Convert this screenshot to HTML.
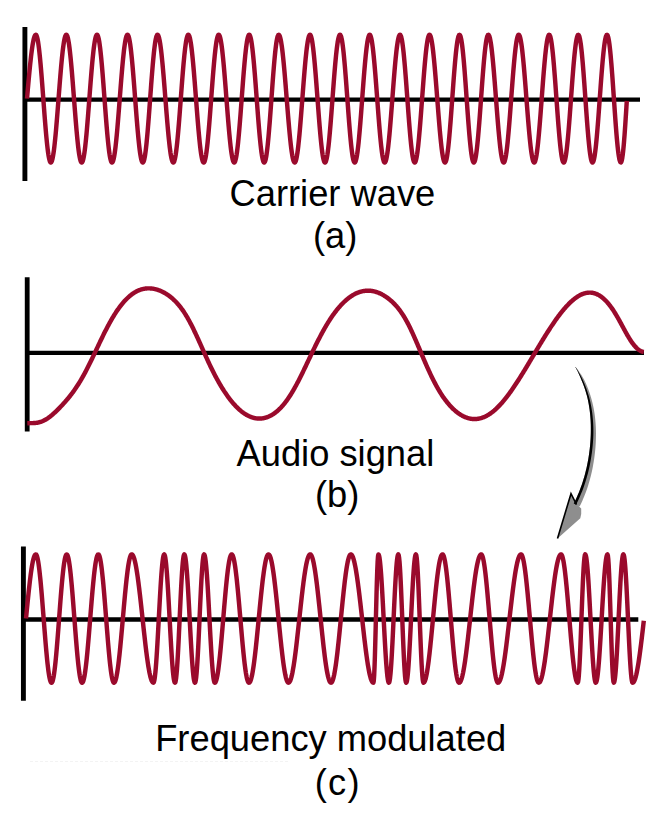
<!DOCTYPE html>
<html><head><meta charset="utf-8"><style>
html,body{margin:0;padding:0;background:#fff;width:666px;height:830px;overflow:hidden}
svg{position:absolute;left:0;top:0}
.t{position:absolute;font-family:"Liberation Sans",sans-serif;font-size:36.3px;color:#000;white-space:nowrap;line-height:1}
</style></head><body>
<svg width="666" height="830" viewBox="0 0 666 830">
<g fill="none" stroke="#000" stroke-width="4.3">
<path d="M24.9,27 V181" stroke-width="4.9"/><path d="M25,99.6 H640"/>
<path d="M27.2,277.2 V431.5" stroke-width="4.8"/><path d="M27.3,352.8 H644"/>
<path d="M23.4,546.4 V700.7" stroke-width="4.9"/><path d="M23.4,619.5 H638.3"/>
</g>
<g fill="none" stroke="#9a0a2c" stroke-width="4.45" stroke-linejoin="round">
<path d="M27.00,98.65 L27.40,94.09 L27.80,89.56 L28.20,85.08 L28.60,80.66 L29.00,76.34 L29.40,72.13 L29.80,68.05 L30.20,64.13 L30.60,60.39 L31.00,56.84 L31.40,53.50 L31.80,50.40 L32.20,47.54 L32.60,44.94 L33.00,42.61 L33.40,40.57 L33.80,38.83 L34.20,37.39 L34.60,36.26 L35.00,35.45 L35.40,34.96 L35.80,34.80 L36.19,35.02 L36.59,35.67 L36.98,36.75 L37.38,38.26 L37.77,40.18 L38.17,42.50 L38.56,45.20 L38.96,48.26 L39.35,51.67 L39.75,55.41 L40.14,59.43 L40.54,63.73 L40.93,68.26 L41.33,73.00 L41.72,77.92 L42.12,82.98 L42.51,88.14 L42.91,93.38 L43.30,98.65 L43.69,103.92 L44.09,109.16 L44.48,114.32 L44.88,119.38 L45.27,124.30 L45.67,129.04 L46.06,133.57 L46.46,137.87 L46.85,141.89 L47.25,145.63 L47.64,149.04 L48.04,152.10 L48.43,154.80 L48.83,157.12 L49.22,159.04 L49.62,160.55 L50.01,161.63 L50.41,162.28 L50.80,162.50 L51.20,162.29 L51.59,161.67 L51.99,160.64 L52.39,159.21 L52.79,157.39 L53.18,155.19 L53.58,152.62 L53.98,149.69 L54.38,146.44 L54.77,142.88 L55.17,139.03 L55.57,134.92 L55.97,130.58 L56.36,126.02 L56.76,121.29 L57.16,116.41 L57.56,111.42 L57.95,106.35 L58.35,101.22 L58.75,96.08 L59.15,90.95 L59.54,85.88 L59.94,80.89 L60.34,76.01 L60.74,71.28 L61.13,66.73 L61.53,62.38 L61.93,58.27 L62.33,54.42 L62.72,50.86 L63.12,47.61 L63.52,44.68 L63.92,42.11 L64.31,39.91 L64.71,38.09 L65.11,36.66 L65.51,35.63 L65.90,35.01 L66.30,34.80 L66.69,35.01 L67.09,35.63 L67.48,36.66 L67.88,38.09 L68.27,39.91 L68.67,42.11 L69.06,44.68 L69.46,47.61 L69.85,50.86 L70.25,54.42 L70.64,58.27 L71.04,62.38 L71.43,66.72 L71.83,71.28 L72.22,76.01 L72.62,80.89 L73.01,85.88 L73.41,90.95 L73.80,96.08 L74.20,101.22 L74.59,106.35 L74.99,111.42 L75.38,116.41 L75.78,121.29 L76.17,126.02 L76.57,130.57 L76.96,134.92 L77.36,139.03 L77.75,142.88 L78.15,146.44 L78.54,149.69 L78.94,152.62 L79.33,155.19 L79.73,157.39 L80.12,159.21 L80.52,160.64 L80.91,161.67 L81.31,162.29 L81.70,162.50 L82.09,162.29 L82.48,161.67 L82.88,160.64 L83.27,159.21 L83.66,157.39 L84.05,155.19 L84.45,152.62 L84.84,149.69 L85.23,146.44 L85.62,142.88 L86.02,139.03 L86.41,134.92 L86.80,130.58 L87.19,126.02 L87.58,121.29 L87.98,116.41 L88.37,111.42 L88.76,106.35 L89.15,101.22 L89.55,96.08 L89.94,90.95 L90.33,85.88 L90.72,80.89 L91.12,76.01 L91.51,71.28 L91.90,66.73 L92.29,62.38 L92.68,58.27 L93.08,54.42 L93.47,50.86 L93.86,47.61 L94.25,44.68 L94.65,42.11 L95.04,39.91 L95.43,38.09 L95.82,36.66 L96.22,35.63 L96.61,35.01 L97.00,34.80 L97.39,35.02 L97.79,35.67 L98.18,36.75 L98.58,38.26 L98.97,40.18 L99.37,42.50 L99.76,45.20 L100.16,48.26 L100.55,51.67 L100.95,55.41 L101.34,59.43 L101.74,63.73 L102.13,68.26 L102.53,73.00 L102.92,77.92 L103.32,82.98 L103.71,88.14 L104.11,93.38 L104.50,98.65 L104.89,103.92 L105.29,109.16 L105.68,114.32 L106.08,119.38 L106.47,124.30 L106.87,129.04 L107.26,133.57 L107.66,137.87 L108.05,141.89 L108.45,145.63 L108.84,149.04 L109.24,152.10 L109.63,154.80 L110.03,157.12 L110.42,159.04 L110.82,160.55 L111.21,161.63 L111.61,162.28 L112.00,162.50 L112.40,162.29 L112.79,161.67 L113.19,160.64 L113.59,159.21 L113.99,157.39 L114.38,155.19 L114.78,152.62 L115.18,149.69 L115.58,146.44 L115.97,142.88 L116.37,139.03 L116.77,134.92 L117.17,130.58 L117.56,126.02 L117.96,121.29 L118.36,116.41 L118.76,111.42 L119.15,106.35 L119.55,101.22 L119.95,96.08 L120.35,90.95 L120.74,85.88 L121.14,80.89 L121.54,76.01 L121.94,71.28 L122.33,66.73 L122.73,62.38 L123.13,58.27 L123.53,54.42 L123.92,50.86 L124.32,47.61 L124.72,44.68 L125.12,42.11 L125.51,39.91 L125.91,38.09 L126.31,36.66 L126.71,35.63 L127.10,35.01 L127.50,34.80 L127.89,35.01 L128.28,35.63 L128.68,36.66 L129.07,38.09 L129.46,39.91 L129.85,42.11 L130.25,44.68 L130.64,47.61 L131.03,50.86 L131.42,54.42 L131.82,58.27 L132.21,62.38 L132.60,66.72 L132.99,71.28 L133.38,76.01 L133.78,80.89 L134.17,85.88 L134.56,90.95 L134.95,96.08 L135.35,101.22 L135.74,106.35 L136.13,111.42 L136.52,116.41 L136.92,121.29 L137.31,126.02 L137.70,130.57 L138.09,134.92 L138.48,139.03 L138.88,142.88 L139.27,146.44 L139.66,149.69 L140.05,152.62 L140.45,155.19 L140.84,157.39 L141.23,159.21 L141.62,160.64 L142.02,161.67 L142.41,162.29 L142.80,162.50 L143.20,162.27 L143.59,161.58 L143.99,160.44 L144.39,158.85 L144.79,156.83 L145.18,154.39 L145.58,151.55 L145.98,148.33 L146.38,144.75 L146.77,140.83 L147.17,136.62 L147.57,132.13 L147.96,127.40 L148.36,122.46 L148.76,117.35 L149.16,112.10 L149.55,106.76 L149.95,101.36 L150.35,95.94 L150.75,90.54 L151.14,85.20 L151.54,79.95 L151.94,74.84 L152.34,69.90 L152.73,65.17 L153.13,60.68 L153.53,56.47 L153.92,52.55 L154.32,48.97 L154.72,45.75 L155.12,42.91 L155.51,40.47 L155.91,38.45 L156.31,36.86 L156.71,35.72 L157.10,35.03 L157.50,34.80 L157.90,35.00 L158.29,35.59 L158.69,36.56 L159.08,37.93 L159.47,39.66 L159.87,41.76 L160.27,44.21 L160.66,46.99 L161.06,50.10 L161.45,53.50 L161.84,57.18 L162.24,61.12 L162.63,65.29 L163.03,69.66 L163.43,74.22 L163.82,78.92 L164.22,83.74 L164.61,88.66 L165.00,93.64 L165.40,98.65 L165.80,103.66 L166.19,108.64 L166.59,113.56 L166.98,118.38 L167.38,123.08 L167.77,127.64 L168.17,132.01 L168.56,136.18 L168.96,140.12 L169.35,143.80 L169.75,147.20 L170.14,150.31 L170.53,153.09 L170.93,155.54 L171.33,157.64 L171.72,159.37 L172.12,160.74 L172.51,161.71 L172.91,162.30 L173.30,162.50 L173.69,162.28 L174.09,161.63 L174.48,160.55 L174.88,159.04 L175.27,157.12 L175.67,154.80 L176.06,152.10 L176.46,149.04 L176.85,145.63 L177.25,141.89 L177.64,137.87 L178.04,133.57 L178.43,129.04 L178.83,124.30 L179.22,119.38 L179.62,114.32 L180.01,109.16 L180.41,103.92 L180.80,98.65 L181.19,93.38 L181.59,88.14 L181.98,82.98 L182.38,77.92 L182.77,73.00 L183.17,68.26 L183.56,63.73 L183.96,59.43 L184.35,55.41 L184.75,51.67 L185.14,48.26 L185.54,45.20 L185.93,42.50 L186.33,40.18 L186.72,38.26 L187.12,36.75 L187.51,35.67 L187.91,35.02 L188.30,34.80 L188.69,35.01 L189.09,35.63 L189.48,36.66 L189.88,38.09 L190.27,39.91 L190.67,42.11 L191.06,44.68 L191.46,47.61 L191.85,50.86 L192.25,54.42 L192.64,58.27 L193.04,62.38 L193.43,66.72 L193.83,71.28 L194.22,76.01 L194.62,80.89 L195.01,85.88 L195.41,90.95 L195.80,96.08 L196.20,101.22 L196.59,106.35 L196.99,111.42 L197.38,116.41 L197.78,121.29 L198.17,126.02 L198.57,130.57 L198.96,134.92 L199.36,139.03 L199.75,142.88 L200.15,146.44 L200.54,149.69 L200.94,152.62 L201.33,155.19 L201.73,157.39 L202.12,159.21 L202.52,160.64 L202.91,161.67 L203.31,162.29 L203.70,162.50 L204.09,162.28 L204.49,161.63 L204.88,160.55 L205.28,159.04 L205.67,157.12 L206.07,154.80 L206.46,152.10 L206.86,149.04 L207.25,145.63 L207.65,141.89 L208.04,137.87 L208.44,133.57 L208.83,129.04 L209.23,124.30 L209.62,119.38 L210.02,114.32 L210.41,109.16 L210.81,103.92 L211.20,98.65 L211.59,93.38 L211.99,88.14 L212.38,82.98 L212.78,77.92 L213.17,73.00 L213.57,68.26 L213.96,63.73 L214.36,59.43 L214.75,55.41 L215.15,51.67 L215.54,48.26 L215.94,45.20 L216.33,42.50 L216.73,40.18 L217.12,38.26 L217.52,36.75 L217.91,35.67 L218.31,35.02 L218.70,34.80 L219.10,35.01 L219.49,35.63 L219.89,36.66 L220.29,38.09 L220.69,39.91 L221.08,42.11 L221.48,44.68 L221.88,47.61 L222.28,50.86 L222.67,54.42 L223.07,58.27 L223.47,62.38 L223.87,66.72 L224.26,71.28 L224.66,76.01 L225.06,80.89 L225.46,85.88 L225.85,90.95 L226.25,96.08 L226.65,101.22 L227.05,106.35 L227.44,111.42 L227.84,116.41 L228.24,121.29 L228.64,126.02 L229.03,130.57 L229.43,134.92 L229.83,139.03 L230.23,142.88 L230.62,146.44 L231.02,149.69 L231.42,152.62 L231.82,155.19 L232.21,157.39 L232.61,159.21 L233.01,160.64 L233.41,161.67 L233.80,162.29 L234.20,162.50 L234.59,162.28 L234.99,161.63 L235.38,160.55 L235.78,159.04 L236.17,157.12 L236.57,154.80 L236.96,152.10 L237.36,149.04 L237.75,145.63 L238.15,141.89 L238.54,137.87 L238.94,133.57 L239.33,129.04 L239.73,124.30 L240.12,119.38 L240.52,114.32 L240.91,109.16 L241.31,103.92 L241.70,98.65 L242.09,93.38 L242.49,88.14 L242.88,82.98 L243.28,77.92 L243.67,73.00 L244.07,68.26 L244.46,63.73 L244.86,59.43 L245.25,55.41 L245.65,51.67 L246.04,48.26 L246.44,45.20 L246.83,42.50 L247.23,40.18 L247.62,38.26 L248.02,36.75 L248.41,35.67 L248.81,35.02 L249.20,34.80 L249.59,35.02 L249.99,35.67 L250.38,36.75 L250.78,38.26 L251.17,40.18 L251.57,42.50 L251.96,45.20 L252.36,48.26 L252.75,51.67 L253.15,55.41 L253.54,59.43 L253.94,63.73 L254.33,68.26 L254.73,73.00 L255.12,77.92 L255.52,82.98 L255.91,88.14 L256.31,93.38 L256.70,98.65 L257.09,103.92 L257.49,109.16 L257.88,114.32 L258.28,119.38 L258.67,124.30 L259.07,129.04 L259.46,133.57 L259.86,137.87 L260.25,141.89 L260.65,145.63 L261.04,149.04 L261.44,152.10 L261.83,154.80 L262.23,157.12 L262.62,159.04 L263.02,160.55 L263.41,161.63 L263.81,162.28 L264.20,162.50 L264.59,162.27 L264.98,161.58 L265.38,160.44 L265.77,158.85 L266.16,156.83 L266.55,154.39 L266.94,151.55 L267.34,148.33 L267.73,144.75 L268.12,140.83 L268.51,136.62 L268.90,132.13 L269.29,127.40 L269.69,122.46 L270.08,117.35 L270.47,112.10 L270.86,106.76 L271.25,101.36 L271.65,95.94 L272.04,90.54 L272.43,85.20 L272.82,79.95 L273.21,74.84 L273.61,69.90 L274.00,65.17 L274.39,60.68 L274.78,56.47 L275.17,52.55 L275.56,48.97 L275.96,45.75 L276.35,42.91 L276.74,40.47 L277.13,38.45 L277.52,36.86 L277.92,35.72 L278.31,35.03 L278.70,34.80 L279.09,34.99 L279.48,35.55 L279.87,36.48 L280.26,37.78 L280.65,39.43 L281.04,41.43 L281.43,43.77 L281.82,46.43 L282.21,49.39 L282.60,52.64 L282.99,56.17 L283.38,59.94 L283.77,63.94 L284.16,68.15 L284.55,72.53 L284.94,77.07 L285.33,81.73 L285.72,86.49 L286.11,91.33 L286.50,96.20 L286.90,101.10 L287.29,105.97 L287.68,110.81 L288.07,115.57 L288.46,120.23 L288.85,124.77 L289.24,129.15 L289.63,133.36 L290.02,137.36 L290.41,141.13 L290.80,144.66 L291.19,147.91 L291.58,150.87 L291.97,153.53 L292.36,155.87 L292.75,157.87 L293.14,159.52 L293.53,160.82 L293.92,161.75 L294.31,162.31 L294.70,162.50 L295.09,162.29 L295.48,161.67 L295.88,160.64 L296.27,159.21 L296.66,157.39 L297.05,155.19 L297.45,152.62 L297.84,149.69 L298.23,146.44 L298.62,142.88 L299.02,139.03 L299.41,134.92 L299.80,130.58 L300.19,126.02 L300.58,121.29 L300.98,116.41 L301.37,111.42 L301.76,106.35 L302.15,101.22 L302.55,96.08 L302.94,90.95 L303.33,85.88 L303.72,80.89 L304.12,76.01 L304.51,71.28 L304.90,66.73 L305.29,62.38 L305.68,58.27 L306.08,54.42 L306.47,50.86 L306.86,47.61 L307.25,44.68 L307.65,42.11 L308.04,39.91 L308.43,38.09 L308.82,36.66 L309.22,35.63 L309.61,35.01 L310.00,34.80 L310.39,35.02 L310.79,35.67 L311.18,36.75 L311.58,38.26 L311.97,40.18 L312.37,42.50 L312.76,45.20 L313.16,48.26 L313.55,51.67 L313.95,55.41 L314.34,59.43 L314.74,63.73 L315.13,68.26 L315.53,73.00 L315.92,77.92 L316.32,82.98 L316.71,88.14 L317.11,93.38 L317.50,98.65 L317.89,103.92 L318.29,109.16 L318.68,114.32 L319.08,119.38 L319.47,124.30 L319.87,129.04 L320.26,133.57 L320.66,137.87 L321.05,141.89 L321.45,145.63 L321.84,149.04 L322.24,152.10 L322.63,154.80 L323.03,157.12 L323.42,159.04 L323.82,160.55 L324.21,161.63 L324.61,162.28 L325.00,162.50 L325.39,162.28 L325.79,161.63 L326.18,160.55 L326.58,159.04 L326.97,157.12 L327.37,154.80 L327.76,152.10 L328.16,149.04 L328.55,145.63 L328.95,141.89 L329.34,137.87 L329.74,133.57 L330.13,129.04 L330.53,124.30 L330.92,119.38 L331.32,114.32 L331.71,109.16 L332.11,103.92 L332.50,98.65 L332.89,93.38 L333.29,88.14 L333.68,82.98 L334.08,77.92 L334.47,73.00 L334.87,68.26 L335.26,63.73 L335.66,59.43 L336.05,55.41 L336.45,51.67 L336.84,48.26 L337.24,45.20 L337.63,42.50 L338.03,40.18 L338.42,38.26 L338.82,36.75 L339.21,35.67 L339.61,35.02 L340.00,34.80 L340.40,35.03 L340.79,35.72 L341.19,36.86 L341.59,38.45 L341.99,40.47 L342.38,42.91 L342.78,45.75 L343.18,48.97 L343.58,52.55 L343.97,56.47 L344.37,60.68 L344.77,65.17 L345.16,69.90 L345.56,74.84 L345.96,79.95 L346.36,85.20 L346.75,90.54 L347.15,95.94 L347.55,101.36 L347.95,106.76 L348.34,112.10 L348.74,117.35 L349.14,122.46 L349.54,127.40 L349.93,132.13 L350.33,136.62 L350.73,140.83 L351.12,144.75 L351.52,148.33 L351.92,151.55 L352.32,154.39 L352.71,156.83 L353.11,158.85 L353.51,160.44 L353.91,161.58 L354.30,162.27 L354.70,162.50 L355.09,162.28 L355.49,161.63 L355.88,160.55 L356.28,159.04 L356.67,157.12 L357.07,154.80 L357.46,152.10 L357.86,149.04 L358.25,145.63 L358.65,141.89 L359.04,137.87 L359.44,133.57 L359.83,129.04 L360.23,124.30 L360.62,119.38 L361.02,114.32 L361.41,109.16 L361.81,103.92 L362.20,98.65 L362.59,93.38 L362.99,88.14 L363.38,82.98 L363.78,77.92 L364.17,73.00 L364.57,68.26 L364.96,63.73 L365.36,59.43 L365.75,55.41 L366.15,51.67 L366.54,48.26 L366.94,45.20 L367.33,42.50 L367.73,40.18 L368.12,38.26 L368.52,36.75 L368.91,35.67 L369.31,35.02 L369.70,34.80 L370.09,35.02 L370.49,35.67 L370.88,36.75 L371.28,38.26 L371.67,40.18 L372.07,42.50 L372.46,45.20 L372.86,48.26 L373.25,51.67 L373.65,55.41 L374.04,59.43 L374.44,63.73 L374.83,68.26 L375.23,73.00 L375.62,77.92 L376.02,82.98 L376.41,88.14 L376.81,93.38 L377.20,98.65 L377.59,103.92 L377.99,109.16 L378.38,114.32 L378.78,119.38 L379.17,124.30 L379.57,129.04 L379.96,133.57 L380.36,137.87 L380.75,141.89 L381.15,145.63 L381.54,149.04 L381.94,152.10 L382.33,154.80 L382.73,157.12 L383.12,159.04 L383.52,160.55 L383.91,161.63 L384.31,162.28 L384.70,162.50 L385.09,162.29 L385.48,161.67 L385.88,160.64 L386.27,159.21 L386.66,157.39 L387.05,155.19 L387.45,152.62 L387.84,149.69 L388.23,146.44 L388.62,142.88 L389.02,139.03 L389.41,134.92 L389.80,130.58 L390.19,126.02 L390.58,121.29 L390.98,116.41 L391.37,111.42 L391.76,106.35 L392.15,101.22 L392.55,96.08 L392.94,90.95 L393.33,85.88 L393.72,80.89 L394.12,76.01 L394.51,71.28 L394.90,66.73 L395.29,62.38 L395.68,58.27 L396.08,54.42 L396.47,50.86 L396.86,47.61 L397.25,44.68 L397.65,42.11 L398.04,39.91 L398.43,38.09 L398.82,36.66 L399.22,35.63 L399.61,35.01 L400.00,34.80 L400.40,35.03 L400.79,35.72 L401.19,36.86 L401.59,38.45 L401.99,40.47 L402.38,42.91 L402.78,45.75 L403.18,48.97 L403.58,52.55 L403.97,56.47 L404.37,60.68 L404.77,65.17 L405.16,69.90 L405.56,74.84 L405.96,79.95 L406.36,85.20 L406.75,90.54 L407.15,95.94 L407.55,101.36 L407.95,106.76 L408.34,112.10 L408.74,117.35 L409.14,122.46 L409.54,127.40 L409.93,132.13 L410.33,136.62 L410.73,140.83 L411.12,144.75 L411.52,148.33 L411.92,151.55 L412.32,154.39 L412.71,156.83 L413.11,158.85 L413.51,160.44 L413.91,161.58 L414.30,162.27 L414.70,162.50 L415.09,162.28 L415.48,161.63 L415.87,160.55 L416.26,159.04 L416.65,157.12 L417.04,154.80 L417.43,152.10 L417.82,149.04 L418.21,145.63 L418.59,141.89 L418.98,137.87 L419.37,133.57 L419.76,129.04 L420.15,124.30 L420.54,119.38 L420.93,114.32 L421.32,109.16 L421.71,103.92 L422.10,98.65 L422.49,93.38 L422.88,88.14 L423.27,82.98 L423.66,77.92 L424.05,73.00 L424.44,68.26 L424.83,63.73 L425.22,59.43 L425.61,55.41 L425.99,51.67 L426.38,48.26 L426.77,45.20 L427.16,42.50 L427.55,40.18 L427.94,38.26 L428.33,36.75 L428.72,35.67 L429.11,35.02 L429.50,34.80 L429.90,35.01 L430.29,35.63 L430.69,36.66 L431.09,38.09 L431.49,39.91 L431.88,42.11 L432.28,44.68 L432.68,47.61 L433.08,50.86 L433.47,54.42 L433.87,58.27 L434.27,62.38 L434.67,66.72 L435.06,71.28 L435.46,76.01 L435.86,80.89 L436.26,85.88 L436.65,90.95 L437.05,96.08 L437.45,101.22 L437.85,106.35 L438.24,111.42 L438.64,116.41 L439.04,121.29 L439.44,126.02 L439.83,130.57 L440.23,134.92 L440.63,139.03 L441.03,142.88 L441.42,146.44 L441.82,149.69 L442.22,152.62 L442.62,155.19 L443.01,157.39 L443.41,159.21 L443.81,160.64 L444.21,161.67 L444.60,162.29 L445.00,162.50 L445.39,162.27 L445.78,161.58 L446.18,160.44 L446.57,158.85 L446.96,156.83 L447.35,154.39 L447.74,151.55 L448.14,148.33 L448.53,144.75 L448.92,140.83 L449.31,136.62 L449.70,132.13 L450.09,127.40 L450.49,122.46 L450.88,117.35 L451.27,112.10 L451.66,106.76 L452.05,101.36 L452.45,95.94 L452.84,90.54 L453.23,85.20 L453.62,79.95 L454.01,74.84 L454.41,69.90 L454.80,65.17 L455.19,60.68 L455.58,56.47 L455.97,52.55 L456.36,48.97 L456.76,45.75 L457.15,42.91 L457.54,40.47 L457.93,38.45 L458.32,36.86 L458.72,35.72 L459.11,35.03 L459.50,34.80 L459.90,35.04 L460.29,35.77 L460.69,36.98 L461.09,38.65 L461.49,40.78 L461.88,43.35 L462.28,46.35 L462.68,49.74 L463.07,53.50 L463.47,57.61 L463.87,62.03 L464.27,66.72 L464.66,71.67 L465.06,76.81 L465.46,82.12 L465.86,87.56 L466.25,93.09 L466.65,98.65 L467.05,104.21 L467.44,109.74 L467.84,115.18 L468.24,120.49 L468.64,125.63 L469.03,130.57 L469.43,135.27 L469.83,139.69 L470.23,143.80 L470.62,147.56 L471.02,150.95 L471.42,153.95 L471.81,156.52 L472.21,158.65 L472.61,160.32 L473.01,161.53 L473.40,162.26 L473.80,162.50 L474.19,162.27 L474.58,161.58 L474.98,160.44 L475.37,158.85 L475.76,156.83 L476.15,154.39 L476.54,151.55 L476.94,148.33 L477.33,144.75 L477.72,140.83 L478.11,136.62 L478.50,132.13 L478.89,127.40 L479.29,122.46 L479.68,117.35 L480.07,112.10 L480.46,106.76 L480.85,101.36 L481.25,95.94 L481.64,90.54 L482.03,85.20 L482.42,79.95 L482.81,74.84 L483.21,69.90 L483.60,65.17 L483.99,60.68 L484.38,56.47 L484.77,52.55 L485.16,48.97 L485.56,45.75 L485.95,42.91 L486.34,40.47 L486.73,38.45 L487.12,36.86 L487.52,35.72 L487.91,35.03 L488.30,34.80 L488.69,35.01 L489.09,35.63 L489.48,36.66 L489.88,38.09 L490.27,39.91 L490.67,42.11 L491.06,44.68 L491.46,47.61 L491.85,50.86 L492.25,54.42 L492.64,58.27 L493.04,62.38 L493.43,66.72 L493.83,71.28 L494.22,76.01 L494.62,80.89 L495.01,85.88 L495.41,90.95 L495.80,96.08 L496.20,101.22 L496.59,106.35 L496.99,111.42 L497.38,116.41 L497.78,121.29 L498.17,126.02 L498.57,130.57 L498.96,134.92 L499.36,139.03 L499.75,142.88 L500.15,146.44 L500.54,149.69 L500.94,152.62 L501.33,155.19 L501.73,157.39 L502.12,159.21 L502.52,160.64 L502.91,161.67 L503.31,162.29 L503.70,162.50 L504.09,162.28 L504.49,161.63 L504.88,160.55 L505.28,159.04 L505.67,157.12 L506.07,154.80 L506.46,152.10 L506.86,149.04 L507.25,145.63 L507.65,141.89 L508.04,137.87 L508.44,133.57 L508.83,129.04 L509.23,124.30 L509.62,119.38 L510.02,114.32 L510.41,109.16 L510.81,103.92 L511.20,98.65 L511.59,93.38 L511.99,88.14 L512.38,82.98 L512.78,77.92 L513.17,73.00 L513.57,68.26 L513.96,63.73 L514.36,59.43 L514.75,55.41 L515.15,51.67 L515.54,48.26 L515.94,45.20 L516.33,42.50 L516.73,40.18 L517.12,38.26 L517.52,36.75 L517.91,35.67 L518.31,35.02 L518.70,34.80 L519.10,35.01 L519.49,35.63 L519.89,36.66 L520.29,38.09 L520.69,39.91 L521.08,42.11 L521.48,44.68 L521.88,47.61 L522.28,50.86 L522.67,54.42 L523.07,58.27 L523.47,62.38 L523.87,66.72 L524.26,71.28 L524.66,76.01 L525.06,80.89 L525.46,85.88 L525.85,90.95 L526.25,96.08 L526.65,101.22 L527.05,106.35 L527.44,111.42 L527.84,116.41 L528.24,121.29 L528.64,126.02 L529.03,130.57 L529.43,134.92 L529.83,139.03 L530.23,142.88 L530.62,146.44 L531.02,149.69 L531.42,152.62 L531.82,155.19 L532.21,157.39 L532.61,159.21 L533.01,160.64 L533.41,161.67 L533.80,162.29 L534.20,162.50 L534.59,162.28 L534.99,161.63 L535.38,160.55 L535.78,159.04 L536.17,157.12 L536.57,154.80 L536.96,152.10 L537.36,149.04 L537.75,145.63 L538.15,141.89 L538.54,137.87 L538.94,133.57 L539.33,129.04 L539.73,124.30 L540.12,119.38 L540.52,114.32 L540.91,109.16 L541.31,103.92 L541.70,98.65 L542.09,93.38 L542.49,88.14 L542.88,82.98 L543.28,77.92 L543.67,73.00 L544.07,68.26 L544.46,63.73 L544.86,59.43 L545.25,55.41 L545.65,51.67 L546.04,48.26 L546.44,45.20 L546.83,42.50 L547.23,40.18 L547.62,38.26 L548.02,36.75 L548.41,35.67 L548.81,35.02 L549.20,34.80 L549.59,35.03 L549.98,35.72 L550.38,36.86 L550.77,38.45 L551.16,40.47 L551.55,42.91 L551.94,45.75 L552.34,48.97 L552.73,52.55 L553.12,56.47 L553.51,60.68 L553.90,65.17 L554.29,69.90 L554.69,74.84 L555.08,79.95 L555.47,85.20 L555.86,90.54 L556.25,95.94 L556.65,101.36 L557.04,106.76 L557.43,112.10 L557.82,117.35 L558.21,122.46 L558.61,127.40 L559.00,132.13 L559.39,136.62 L559.78,140.83 L560.17,144.75 L560.56,148.33 L560.96,151.55 L561.35,154.39 L561.74,156.83 L562.13,158.85 L562.52,160.44 L562.92,161.58 L563.31,162.27 L563.70,162.50 L564.09,162.27 L564.49,161.58 L564.88,160.44 L565.28,158.85 L565.67,156.83 L566.07,154.39 L566.46,151.55 L566.86,148.33 L567.25,144.75 L567.65,140.83 L568.04,136.62 L568.44,132.13 L568.83,127.40 L569.22,122.46 L569.62,117.35 L570.01,112.10 L570.41,106.76 L570.80,101.36 L571.20,95.94 L571.59,90.54 L571.99,85.20 L572.38,79.95 L572.78,74.84 L573.17,69.90 L573.56,65.17 L573.96,60.68 L574.35,56.47 L574.75,52.55 L575.14,48.97 L575.54,45.75 L575.93,42.91 L576.33,40.47 L576.72,38.45 L577.12,36.86 L577.51,35.72 L577.91,35.03 L578.30,34.80 L578.69,35.04 L579.09,35.77 L579.48,36.98 L579.88,38.65 L580.27,40.78 L580.67,43.35 L581.06,46.35 L581.46,49.74 L581.85,53.50 L582.24,57.61 L582.64,62.03 L583.03,66.72 L583.43,71.67 L583.82,76.81 L584.22,82.12 L584.61,87.56 L585.01,93.09 L585.40,98.65 L585.79,104.21 L586.19,109.74 L586.58,115.18 L586.98,120.49 L587.37,125.63 L587.77,130.57 L588.16,135.27 L588.56,139.69 L588.95,143.80 L589.34,147.56 L589.74,150.95 L590.13,153.95 L590.53,156.52 L590.92,158.65 L591.32,160.32 L591.71,161.53 L592.11,162.26 L592.50,162.50 L592.89,162.27 L593.28,161.58 L593.68,160.44 L594.07,158.85 L594.46,156.83 L594.85,154.39 L595.24,151.55 L595.64,148.33 L596.03,144.75 L596.42,140.83 L596.81,136.62 L597.20,132.13 L597.59,127.40 L597.99,122.46 L598.38,117.35 L598.77,112.10 L599.16,106.76 L599.55,101.36 L599.95,95.94 L600.34,90.54 L600.73,85.20 L601.12,79.95 L601.51,74.84 L601.91,69.90 L602.30,65.17 L602.69,60.68 L603.08,56.47 L603.47,52.55 L603.86,48.97 L604.26,45.75 L604.65,42.91 L605.04,40.47 L605.43,38.45 L605.82,36.86 L606.22,35.72 L606.61,35.03 L607.00,34.80 L607.39,35.06 L607.79,35.83 L608.18,37.10 L608.58,38.87 L608.97,41.12 L609.37,43.84 L609.76,46.99 L610.15,50.57 L610.55,54.53 L610.94,58.84 L611.34,63.48 L611.73,68.39 L612.13,73.56 L612.52,78.92 L612.91,84.44 L613.31,90.08 L613.70,95.79 L614.10,101.51 L614.49,107.22 L614.89,112.86 L615.28,118.38 L615.67,123.74 L616.07,128.91 L616.46,133.82 L616.86,138.46 L617.25,142.77 L617.65,146.73 L618.04,150.31 L618.43,153.46 L618.83,156.18 L619.22,158.43 L619.62,160.20 L620.01,161.47 L620.41,162.24 L620.80,162.50 L621.17,162.20 L621.55,161.31 L621.92,159.84 L622.30,157.80 L622.67,155.21 L623.05,152.10 L623.42,148.49 L623.80,144.43 L624.17,139.94 L624.55,135.08 L624.92,129.89 L625.30,124.41 L625.67,118.71 L626.05,112.84 L626.42,106.85 L626.80,100.80"/>
<path d="M27.30,423.21 L27.80,423.19 L28.30,423.17 L28.80,423.16 L29.30,423.15 L29.80,423.14 L30.30,423.14 L30.80,423.14 L31.30,423.13 L31.80,423.13 L32.30,423.12 L32.80,423.10 L33.30,423.09 L33.80,423.06 L34.30,423.03 L34.80,423.00 L35.30,422.96 L35.80,422.91 L36.30,422.85 L36.80,422.78 L37.30,422.70 L37.80,422.61 L38.30,422.51 L38.80,422.40 L39.30,422.27 L39.80,422.14 L40.30,421.99 L40.80,421.83 L41.30,421.66 L41.80,421.47 L42.30,421.28 L42.80,421.06 L43.30,420.84 L43.80,420.60 L44.30,420.35 L44.80,420.09 L45.30,419.81 L45.80,419.52 L46.30,419.22 L46.80,418.90 L47.30,418.58 L47.80,418.24 L48.30,417.89 L48.80,417.53 L49.30,417.16 L49.80,416.77 L50.30,416.38 L50.80,415.98 L51.30,415.57 L51.80,415.16 L52.30,414.73 L52.80,414.30 L53.30,413.86 L53.80,413.41 L54.30,412.95 L54.80,412.49 L55.30,412.03 L55.80,411.55 L56.30,411.07 L56.80,410.59 L57.30,410.10 L57.80,409.60 L58.30,409.10 L58.80,408.60 L59.30,408.09 L59.80,407.58 L60.30,407.06 L60.80,406.53 L61.30,406.00 L61.80,405.47 L62.30,404.93 L62.80,404.39 L63.30,403.84 L63.80,403.29 L64.30,402.74 L64.80,402.17 L65.30,401.61 L65.80,401.03 L66.30,400.46 L66.80,399.87 L67.30,399.28 L67.80,398.69 L68.30,398.09 L68.80,397.48 L69.30,396.86 L69.80,396.24 L70.30,395.61 L70.80,394.97 L71.30,394.33 L71.80,393.67 L72.30,393.01 L72.80,392.34 L73.30,391.65 L73.80,390.96 L74.30,390.26 L74.80,389.55 L75.30,388.83 L75.80,388.10 L76.30,387.35 L76.80,386.60 L77.30,385.84 L77.80,385.06 L78.30,384.28 L78.80,383.48 L79.30,382.67 L79.80,381.86 L80.30,381.03 L80.80,380.19 L81.30,379.34 L81.80,378.47 L82.30,377.60 L82.80,376.72 L83.30,375.83 L83.80,374.92 L84.30,374.01 L84.80,373.09 L85.30,372.15 L85.80,371.21 L86.30,370.26 L86.80,369.29 L87.30,368.32 L87.80,367.35 L88.30,366.36 L88.80,365.36 L89.30,364.36 L89.80,363.35 L90.30,362.33 L90.80,361.31 L91.30,360.28 L91.80,359.25 L92.30,358.21 L92.80,357.16 L93.30,356.12 L93.80,355.06 L94.30,354.01 L94.80,352.95 L95.30,351.89 L95.80,350.83 L96.30,349.77 L96.80,348.71 L97.30,347.65 L97.80,346.59 L98.30,345.53 L98.80,344.47 L99.30,343.41 L99.80,342.36 L100.30,341.31 L100.80,340.27 L101.30,339.23 L101.80,338.20 L102.30,337.17 L102.80,336.14 L103.30,335.12 L103.80,334.11 L104.30,333.11 L104.80,332.11 L105.30,331.12 L105.80,330.14 L106.30,329.17 L106.80,328.20 L107.30,327.25 L107.80,326.30 L108.30,325.36 L108.80,324.44 L109.30,323.52 L109.80,322.61 L110.30,321.71 L110.80,320.83 L111.30,319.95 L111.80,319.09 L112.30,318.24 L112.80,317.39 L113.30,316.56 L113.80,315.75 L114.30,314.94 L114.80,314.14 L115.30,313.36 L115.80,312.59 L116.30,311.83 L116.80,311.08 L117.30,310.35 L117.80,309.62 L118.30,308.91 L118.80,308.22 L119.30,307.53 L119.80,306.86 L120.30,306.20 L120.80,305.55 L121.30,304.91 L121.80,304.29 L122.30,303.67 L122.80,303.07 L123.30,302.49 L123.80,301.91 L124.30,301.35 L124.80,300.80 L125.30,300.26 L125.80,299.74 L126.30,299.22 L126.80,298.72 L127.30,298.24 L127.80,297.76 L128.30,297.30 L128.80,296.85 L129.30,296.41 L129.80,295.98 L130.30,295.57 L130.80,295.16 L131.30,294.77 L131.80,294.40 L132.30,294.03 L132.80,293.68 L133.30,293.33 L133.80,293.00 L134.30,292.69 L134.80,292.38 L135.30,292.09 L135.80,291.80 L136.30,291.53 L136.80,291.27 L137.30,291.03 L137.80,290.79 L138.30,290.57 L138.80,290.35 L139.30,290.15 L139.80,289.96 L140.30,289.78 L140.80,289.61 L141.30,289.46 L141.80,289.31 L142.30,289.17 L142.80,289.05 L143.30,288.93 L143.80,288.83 L144.30,288.74 L144.80,288.66 L145.30,288.58 L145.80,288.52 L146.30,288.47 L146.80,288.43 L147.30,288.40 L147.80,288.37 L148.30,288.36 L148.80,288.36 L149.30,288.36 L149.80,288.38 L150.30,288.41 L150.80,288.44 L151.30,288.48 L151.80,288.54 L152.30,288.60 L152.80,288.67 L153.30,288.75 L153.80,288.84 L154.30,288.94 L154.80,289.05 L155.30,289.16 L155.80,289.29 L156.30,289.42 L156.80,289.56 L157.30,289.71 L157.80,289.87 L158.30,290.04 L158.80,290.22 L159.30,290.41 L159.80,290.60 L160.30,290.80 L160.80,291.02 L161.30,291.24 L161.80,291.47 L162.30,291.71 L162.80,291.96 L163.30,292.21 L163.80,292.48 L164.30,292.75 L164.80,293.04 L165.30,293.33 L165.80,293.63 L166.30,293.95 L166.80,294.27 L167.30,294.60 L167.80,294.94 L168.30,295.29 L168.80,295.65 L169.30,296.01 L169.80,296.39 L170.30,296.78 L170.80,297.18 L171.30,297.59 L171.80,298.01 L172.30,298.45 L172.80,298.89 L173.30,299.34 L173.80,299.81 L174.30,300.28 L174.80,300.77 L175.30,301.27 L175.80,301.78 L176.30,302.31 L176.80,302.84 L177.30,303.39 L177.80,303.96 L178.30,304.53 L178.80,305.12 L179.30,305.73 L179.80,306.35 L180.30,306.98 L180.80,307.63 L181.30,308.29 L181.80,308.97 L182.30,309.66 L182.80,310.37 L183.30,311.10 L183.80,311.84 L184.30,312.60 L184.80,313.37 L185.30,314.16 L185.80,314.97 L186.30,315.79 L186.80,316.63 L187.30,317.48 L187.80,318.35 L188.30,319.24 L188.80,320.14 L189.30,321.05 L189.80,321.98 L190.30,322.92 L190.80,323.88 L191.30,324.85 L191.80,325.83 L192.30,326.82 L192.80,327.83 L193.30,328.85 L193.80,329.88 L194.30,330.91 L194.80,331.96 L195.30,333.02 L195.80,334.08 L196.30,335.16 L196.80,336.24 L197.30,337.33 L197.80,338.42 L198.30,339.52 L198.80,340.62 L199.30,341.73 L199.80,342.84 L200.30,343.96 L200.80,345.08 L201.30,346.20 L201.80,347.32 L202.30,348.44 L202.80,349.56 L203.30,350.68 L203.80,351.80 L204.30,352.92 L204.80,354.03 L205.30,355.14 L205.80,356.25 L206.30,357.35 L206.80,358.45 L207.30,359.54 L207.80,360.62 L208.30,361.70 L208.80,362.77 L209.30,363.84 L209.80,364.89 L210.30,365.94 L210.80,366.98 L211.30,368.01 L211.80,369.03 L212.30,370.05 L212.80,371.05 L213.30,372.04 L213.80,373.03 L214.30,374.00 L214.80,374.96 L215.30,375.92 L215.80,376.86 L216.30,377.80 L216.80,378.72 L217.30,379.63 L217.80,380.54 L218.30,381.43 L218.80,382.31 L219.30,383.19 L219.80,384.05 L220.30,384.90 L220.80,385.75 L221.30,386.58 L221.80,387.40 L222.30,388.21 L222.80,389.01 L223.30,389.80 L223.80,390.58 L224.30,391.36 L224.80,392.12 L225.30,392.86 L225.80,393.60 L226.30,394.33 L226.80,395.05 L227.30,395.76 L227.80,396.46 L228.30,397.14 L228.80,397.82 L229.30,398.48 L229.80,399.14 L230.30,399.78 L230.80,400.42 L231.30,401.04 L231.80,401.65 L232.30,402.26 L232.80,402.85 L233.30,403.43 L233.80,404.00 L234.30,404.56 L234.80,405.11 L235.30,405.64 L235.80,406.17 L236.30,406.69 L236.80,407.19 L237.30,407.69 L237.80,408.17 L238.30,408.64 L238.80,409.11 L239.30,409.56 L239.80,410.00 L240.30,410.43 L240.80,410.85 L241.30,411.26 L241.80,411.65 L242.30,412.04 L242.80,412.41 L243.30,412.78 L243.80,413.13 L244.30,413.47 L244.80,413.80 L245.30,414.12 L245.80,414.43 L246.30,414.73 L246.80,415.02 L247.30,415.29 L247.80,415.56 L248.30,415.81 L248.80,416.06 L249.30,416.29 L249.80,416.51 L250.30,416.72 L250.80,416.91 L251.30,417.10 L251.80,417.28 L252.30,417.44 L252.80,417.59 L253.30,417.74 L253.80,417.87 L254.30,417.99 L254.80,418.10 L255.30,418.19 L255.80,418.28 L256.30,418.35 L256.80,418.42 L257.30,418.47 L257.80,418.51 L258.30,418.54 L258.80,418.56 L259.30,418.56 L259.80,418.56 L260.30,418.54 L260.80,418.51 L261.30,418.47 L261.80,418.42 L262.30,418.36 L262.80,418.29 L263.30,418.20 L263.80,418.11 L264.30,418.00 L264.80,417.88 L265.30,417.75 L265.80,417.61 L266.30,417.45 L266.80,417.29 L267.30,417.11 L267.80,416.92 L268.30,416.72 L268.80,416.51 L269.30,416.28 L269.80,416.04 L270.30,415.80 L270.80,415.53 L271.30,415.26 L271.80,414.98 L272.30,414.68 L272.80,414.37 L273.30,414.05 L273.80,413.71 L274.30,413.37 L274.80,413.01 L275.30,412.64 L275.80,412.25 L276.30,411.85 L276.80,411.44 L277.30,411.02 L277.80,410.58 L278.30,410.13 L278.80,409.67 L279.30,409.20 L279.80,408.71 L280.30,408.20 L280.80,407.69 L281.30,407.16 L281.80,406.61 L282.30,406.06 L282.80,405.48 L283.30,404.90 L283.80,404.30 L284.30,403.69 L284.80,403.06 L285.30,402.42 L285.80,401.76 L286.30,401.09 L286.80,400.41 L287.30,399.71 L287.80,399.00 L288.30,398.28 L288.80,397.54 L289.30,396.79 L289.80,396.02 L290.30,395.25 L290.80,394.45 L291.30,393.65 L291.80,392.83 L292.30,392.00 L292.80,391.16 L293.30,390.31 L293.80,389.44 L294.30,388.57 L294.80,387.68 L295.30,386.78 L295.80,385.87 L296.30,384.95 L296.80,384.02 L297.30,383.08 L297.80,382.12 L298.30,381.16 L298.80,380.20 L299.30,379.22 L299.80,378.23 L300.30,377.24 L300.80,376.24 L301.30,375.23 L301.80,374.22 L302.30,373.20 L302.80,372.17 L303.30,371.14 L303.80,370.11 L304.30,369.07 L304.80,368.02 L305.30,366.98 L305.80,365.93 L306.30,364.88 L306.80,363.83 L307.30,362.77 L307.80,361.72 L308.30,360.66 L308.80,359.61 L309.30,358.55 L309.80,357.50 L310.30,356.45 L310.80,355.40 L311.30,354.35 L311.80,353.30 L312.30,352.26 L312.80,351.22 L313.30,350.19 L313.80,349.15 L314.30,348.13 L314.80,347.10 L315.30,346.08 L315.80,345.07 L316.30,344.06 L316.80,343.06 L317.30,342.07 L317.80,341.08 L318.30,340.09 L318.80,339.12 L319.30,338.15 L319.80,337.19 L320.30,336.23 L320.80,335.29 L321.30,334.35 L321.80,333.42 L322.30,332.50 L322.80,331.59 L323.30,330.68 L323.80,329.79 L324.30,328.90 L324.80,328.02 L325.30,327.16 L325.80,326.30 L326.30,325.45 L326.80,324.61 L327.30,323.78 L327.80,322.96 L328.30,322.16 L328.80,321.36 L329.30,320.57 L329.80,319.79 L330.30,319.02 L330.80,318.27 L331.30,317.52 L331.80,316.78 L332.30,316.06 L332.80,315.34 L333.30,314.64 L333.80,313.94 L334.30,313.26 L334.80,312.58 L335.30,311.92 L335.80,311.27 L336.30,310.62 L336.80,309.99 L337.30,309.37 L337.80,308.76 L338.30,308.16 L338.80,307.57 L339.30,306.99 L339.80,306.42 L340.30,305.86 L340.80,305.31 L341.30,304.77 L341.80,304.24 L342.30,303.72 L342.80,303.21 L343.30,302.72 L343.80,302.23 L344.30,301.75 L344.80,301.28 L345.30,300.83 L345.80,300.38 L346.30,299.94 L346.80,299.52 L347.30,299.10 L347.80,298.69 L348.30,298.30 L348.80,297.91 L349.30,297.54 L349.80,297.17 L350.30,296.82 L350.80,296.47 L351.30,296.14 L351.80,295.81 L352.30,295.50 L352.80,295.19 L353.30,294.90 L353.80,294.61 L354.30,294.34 L354.80,294.07 L355.30,293.82 L355.80,293.57 L356.30,293.34 L356.80,293.11 L357.30,292.90 L357.80,292.69 L358.30,292.50 L358.80,292.31 L359.30,292.14 L359.80,291.97 L360.30,291.82 L360.80,291.67 L361.30,291.54 L361.80,291.41 L362.30,291.30 L362.80,291.19 L363.30,291.09 L363.80,291.01 L364.30,290.93 L364.80,290.86 L365.30,290.81 L365.80,290.76 L366.30,290.72 L366.80,290.70 L367.30,290.68 L367.80,290.67 L368.30,290.67 L368.80,290.68 L369.30,290.70 L369.80,290.73 L370.30,290.77 L370.80,290.82 L371.30,290.88 L371.80,290.95 L372.30,291.03 L372.80,291.12 L373.30,291.22 L373.80,291.32 L374.30,291.44 L374.80,291.57 L375.30,291.70 L375.80,291.85 L376.30,292.00 L376.80,292.17 L377.30,292.34 L377.80,292.53 L378.30,292.72 L378.80,292.92 L379.30,293.13 L379.80,293.35 L380.30,293.58 L380.80,293.82 L381.30,294.07 L381.80,294.33 L382.30,294.60 L382.80,294.88 L383.30,295.16 L383.80,295.46 L384.30,295.77 L384.80,296.08 L385.30,296.40 L385.80,296.74 L386.30,297.08 L386.80,297.43 L387.30,297.79 L387.80,298.16 L388.30,298.54 L388.80,298.93 L389.30,299.33 L389.80,299.74 L390.30,300.15 L390.80,300.58 L391.30,301.02 L391.80,301.47 L392.30,301.93 L392.80,302.40 L393.30,302.88 L393.80,303.38 L394.30,303.88 L394.80,304.40 L395.30,304.93 L395.80,305.47 L396.30,306.03 L396.80,306.59 L397.30,307.18 L397.80,307.78 L398.30,308.39 L398.80,309.02 L399.30,309.66 L399.80,310.32 L400.30,311.00 L400.80,311.69 L401.30,312.41 L401.80,313.14 L402.30,313.88 L402.80,314.65 L403.30,315.44 L403.80,316.24 L404.30,317.06 L404.80,317.91 L405.30,318.77 L405.80,319.65 L406.30,320.54 L406.80,321.46 L407.30,322.39 L407.80,323.34 L408.30,324.31 L408.80,325.29 L409.30,326.29 L409.80,327.31 L410.30,328.34 L410.80,329.39 L411.30,330.45 L411.80,331.52 L412.30,332.60 L412.80,333.70 L413.30,334.81 L413.80,335.93 L414.30,337.05 L414.80,338.19 L415.30,339.33 L415.80,340.48 L416.30,341.64 L416.80,342.80 L417.30,343.97 L417.80,345.14 L418.30,346.32 L418.80,347.49 L419.30,348.67 L419.80,349.86 L420.30,351.04 L420.80,352.22 L421.30,353.40 L421.80,354.58 L422.30,355.76 L422.80,356.94 L423.30,358.11 L423.80,359.28 L424.30,360.44 L424.80,361.60 L425.30,362.75 L425.80,363.89 L426.30,365.03 L426.80,366.16 L427.30,367.29 L427.80,368.40 L428.30,369.51 L428.80,370.61 L429.30,371.69 L429.80,372.77 L430.30,373.84 L430.80,374.89 L431.30,375.94 L431.80,376.97 L432.30,377.99 L432.80,379.00 L433.30,380.00 L433.80,380.98 L434.30,381.96 L434.80,382.91 L435.30,383.86 L435.80,384.79 L436.30,385.71 L436.80,386.62 L437.30,387.51 L437.80,388.39 L438.30,389.25 L438.80,390.10 L439.30,390.94 L439.80,391.76 L440.30,392.57 L440.80,393.37 L441.30,394.15 L441.80,394.92 L442.30,395.67 L442.80,396.41 L443.30,397.14 L443.80,397.86 L444.30,398.56 L444.80,399.25 L445.30,399.92 L445.80,400.58 L446.30,401.23 L446.80,401.87 L447.30,402.49 L447.80,403.10 L448.30,403.70 L448.80,404.29 L449.30,404.87 L449.80,405.43 L450.30,405.98 L450.80,406.52 L451.30,407.04 L451.80,407.56 L452.30,408.06 L452.80,408.55 L453.30,409.03 L453.80,409.50 L454.30,409.95 L454.80,410.40 L455.30,410.83 L455.80,411.25 L456.30,411.66 L456.80,412.06 L457.30,412.44 L457.80,412.82 L458.30,413.18 L458.80,413.54 L459.30,413.88 L459.80,414.21 L460.30,414.53 L460.80,414.84 L461.30,415.14 L461.80,415.42 L462.30,415.70 L462.80,415.97 L463.30,416.22 L463.80,416.46 L464.30,416.69 L464.80,416.92 L465.30,417.13 L465.80,417.33 L466.30,417.51 L466.80,417.69 L467.30,417.86 L467.80,418.01 L468.30,418.16 L468.80,418.29 L469.30,418.41 L469.80,418.53 L470.30,418.63 L470.80,418.72 L471.30,418.80 L471.80,418.86 L472.30,418.92 L472.80,418.97 L473.30,419.00 L473.80,419.03 L474.30,419.04 L474.80,419.04 L475.30,419.03 L475.80,419.01 L476.30,418.98 L476.80,418.93 L477.30,418.88 L477.80,418.81 L478.30,418.73 L478.80,418.65 L479.30,418.55 L479.80,418.44 L480.30,418.31 L480.80,418.18 L481.30,418.03 L481.80,417.88 L482.30,417.71 L482.80,417.53 L483.30,417.34 L483.80,417.14 L484.30,416.93 L484.80,416.71 L485.30,416.48 L485.80,416.23 L486.30,415.97 L486.80,415.71 L487.30,415.43 L487.80,415.14 L488.30,414.84 L488.80,414.53 L489.30,414.21 L489.80,413.88 L490.30,413.54 L490.80,413.19 L491.30,412.82 L491.80,412.45 L492.30,412.07 L492.80,411.67 L493.30,411.27 L493.80,410.85 L494.30,410.43 L494.80,409.99 L495.30,409.55 L495.80,409.09 L496.30,408.63 L496.80,408.16 L497.30,407.67 L497.80,407.18 L498.30,406.68 L498.80,406.16 L499.30,405.64 L499.80,405.11 L500.30,404.58 L500.80,404.03 L501.30,403.47 L501.80,402.91 L502.30,402.33 L502.80,401.75 L503.30,401.16 L503.80,400.56 L504.30,399.95 L504.80,399.34 L505.30,398.71 L505.80,398.08 L506.30,397.45 L506.80,396.80 L507.30,396.15 L507.80,395.49 L508.30,394.82 L508.80,394.15 L509.30,393.47 L509.80,392.78 L510.30,392.09 L510.80,391.39 L511.30,390.68 L511.80,389.97 L512.30,389.25 L512.80,388.53 L513.30,387.80 L513.80,387.06 L514.30,386.32 L514.80,385.58 L515.30,384.83 L515.80,384.07 L516.30,383.31 L516.80,382.55 L517.30,381.78 L517.80,381.00 L518.30,380.22 L518.80,379.44 L519.30,378.66 L519.80,377.87 L520.30,377.07 L520.80,376.28 L521.30,375.48 L521.80,374.67 L522.30,373.87 L522.80,373.06 L523.30,372.24 L523.80,371.43 L524.30,370.61 L524.80,369.79 L525.30,368.97 L525.80,368.14 L526.30,367.32 L526.80,366.49 L527.30,365.66 L527.80,364.82 L528.30,363.99 L528.80,363.16 L529.30,362.32 L529.80,361.48 L530.30,360.64 L530.80,359.81 L531.30,358.97 L531.80,358.13 L532.30,357.28 L532.80,356.44 L533.30,355.60 L533.80,354.76 L534.30,353.92 L534.80,353.08 L535.30,352.24 L535.80,351.40 L536.30,350.56 L536.80,349.72 L537.30,348.89 L537.80,348.05 L538.30,347.22 L538.80,346.38 L539.30,345.55 L539.80,344.72 L540.30,343.89 L540.80,343.07 L541.30,342.24 L541.80,341.42 L542.30,340.60 L542.80,339.78 L543.30,338.97 L543.80,338.15 L544.30,337.34 L544.80,336.54 L545.30,335.73 L545.80,334.93 L546.30,334.14 L546.80,333.34 L547.30,332.55 L547.80,331.77 L548.30,330.99 L548.80,330.21 L549.30,329.43 L549.80,328.67 L550.30,327.90 L550.80,327.14 L551.30,326.38 L551.80,325.63 L552.30,324.89 L552.80,324.15 L553.30,323.41 L553.80,322.68 L554.30,321.95 L554.80,321.24 L555.30,320.52 L555.80,319.81 L556.30,319.11 L556.80,318.42 L557.30,317.73 L557.80,317.05 L558.30,316.37 L558.80,315.70 L559.30,315.04 L559.80,314.38 L560.30,313.73 L560.80,313.09 L561.30,312.46 L561.80,311.83 L562.30,311.21 L562.80,310.60 L563.30,309.99 L563.80,309.40 L564.30,308.81 L564.80,308.23 L565.30,307.66 L565.80,307.10 L566.30,306.54 L566.80,306.00 L567.30,305.46 L567.80,304.94 L568.30,304.42 L568.80,303.91 L569.30,303.41 L569.80,302.92 L570.30,302.44 L570.80,301.97 L571.30,301.51 L571.80,301.06 L572.30,300.62 L572.80,300.19 L573.30,299.77 L573.80,299.36 L574.30,298.96 L574.80,298.57 L575.30,298.20 L575.80,297.83 L576.30,297.48 L576.80,297.13 L577.30,296.80 L577.80,296.48 L578.30,296.17 L578.80,295.88 L579.30,295.59 L579.80,295.32 L580.30,295.06 L580.80,294.81 L581.30,294.58 L581.80,294.35 L582.30,294.14 L582.80,293.95 L583.30,293.76 L583.80,293.59 L584.30,293.43 L584.80,293.29 L585.30,293.16 L585.80,293.04 L586.30,292.94 L586.80,292.85 L587.30,292.77 L587.80,292.71 L588.30,292.66 L588.80,292.63 L589.30,292.61 L589.80,292.61 L590.30,292.62 L590.80,292.64 L591.30,292.68 L591.80,292.74 L592.30,292.81 L592.80,292.89 L593.30,293.00 L593.80,293.11 L594.30,293.25 L594.80,293.39 L595.30,293.56 L595.80,293.74 L596.30,293.94 L596.80,294.15 L597.30,294.38 L597.80,294.62 L598.30,294.88 L598.80,295.16 L599.30,295.45 L599.80,295.76 L600.30,296.09 L600.80,296.43 L601.30,296.79 L601.80,297.17 L602.30,297.56 L602.80,297.97 L603.30,298.39 L603.80,298.83 L604.30,299.29 L604.80,299.77 L605.30,300.26 L605.80,300.77 L606.30,301.29 L606.80,301.83 L607.30,302.39 L607.80,302.97 L608.30,303.56 L608.80,304.16 L609.30,304.79 L609.80,305.43 L610.30,306.08 L610.80,306.75 L611.30,307.44 L611.80,308.15 L612.30,308.87 L612.80,309.60 L613.30,310.35 L613.80,311.12 L614.30,311.90 L614.80,312.69 L615.30,313.50 L615.80,314.33 L616.30,315.16 L616.80,316.01 L617.30,316.87 L617.80,317.74 L618.30,318.62 L618.80,319.51 L619.30,320.41 L619.80,321.32 L620.30,322.23 L620.80,323.15 L621.30,324.07 L621.80,325.00 L622.30,325.93 L622.80,326.86 L623.30,327.79 L623.80,328.71 L624.30,329.64 L624.80,330.56 L625.30,331.47 L625.80,332.37 L626.30,333.27 L626.80,334.16 L627.30,335.03 L627.80,335.89 L628.30,336.74 L628.80,337.57 L629.30,338.39 L629.80,339.19 L630.30,339.97 L630.80,340.74 L631.30,341.48 L631.80,342.20 L632.30,342.90 L632.80,343.58 L633.30,344.24 L633.80,344.87 L634.30,345.48 L634.80,346.06 L635.30,346.62 L635.80,347.15 L636.30,347.66 L636.80,348.14 L637.30,348.59 L637.80,349.02 L638.30,349.42 L638.80,349.79 L639.30,350.13 L639.80,350.45 L640.30,350.74 L640.80,351.00 L641.30,351.23 L641.80,351.43 L642.30,351.61 L642.80,351.76 L643.30,351.89 L643.80,351.98"/>
<path d="M26.00,618.55 L26.39,614.52 L26.78,610.51 L27.18,606.53 L27.57,602.60 L27.96,598.73 L28.35,594.93 L28.74,591.24 L29.14,587.65 L29.53,584.18 L29.92,580.84 L30.31,577.66 L30.70,574.64 L31.10,571.79 L31.49,569.12 L31.88,566.65 L32.27,564.39 L32.66,562.33 L33.06,560.51 L33.45,558.90 L33.84,557.54 L34.23,556.42 L34.62,555.54 L35.02,554.91 L35.41,554.53 L35.80,554.40 L36.19,554.60 L36.58,555.19 L36.98,556.17 L37.37,557.54 L37.76,559.28 L38.16,561.39 L38.55,563.85 L38.94,566.65 L39.33,569.77 L39.72,573.19 L40.12,576.89 L40.51,580.84 L40.90,585.03 L41.30,589.43 L41.69,594.00 L42.08,598.73 L42.47,603.57 L42.86,608.51 L43.26,613.52 L43.65,618.55 L44.04,623.58 L44.44,628.59 L44.83,633.53 L45.22,638.37 L45.61,643.10 L46.00,647.67 L46.40,652.07 L46.79,656.26 L47.18,660.21 L47.58,663.91 L47.97,667.33 L48.36,670.45 L48.75,673.25 L49.14,675.71 L49.54,677.82 L49.93,679.56 L50.32,680.93 L50.72,681.91 L51.11,682.50 L51.50,682.70 L51.89,682.49 L52.28,681.87 L52.67,680.84 L53.06,679.40 L53.45,677.57 L53.84,675.35 L54.23,672.77 L54.62,669.83 L55.01,666.57 L55.40,662.99 L55.79,659.12 L56.18,654.99 L56.57,650.62 L56.96,646.05 L57.35,641.30 L57.74,636.40 L58.13,631.38 L58.52,626.28 L58.91,621.13 L59.29,615.97 L59.68,610.82 L60.07,605.72 L60.46,600.70 L60.85,595.80 L61.24,591.05 L61.63,586.47 L62.02,582.11 L62.41,577.98 L62.80,574.11 L63.19,570.53 L63.58,567.27 L63.97,564.33 L64.36,561.75 L64.75,559.53 L65.14,557.70 L65.53,556.26 L65.92,555.23 L66.31,554.61 L66.70,554.40 L67.09,554.61 L67.49,555.23 L67.88,556.26 L68.28,557.70 L68.67,559.53 L69.07,561.75 L69.46,564.33 L69.86,567.27 L70.25,570.53 L70.65,574.11 L71.04,577.98 L71.44,582.11 L71.83,586.47 L72.23,591.05 L72.62,595.80 L73.02,600.70 L73.41,605.72 L73.81,610.82 L74.20,615.97 L74.60,621.13 L74.99,626.28 L75.39,631.38 L75.78,636.40 L76.18,641.30 L76.57,646.05 L76.97,650.62 L77.36,654.99 L77.76,659.12 L78.15,662.99 L78.55,666.57 L78.94,669.83 L79.34,672.77 L79.73,675.35 L80.13,677.57 L80.52,679.40 L80.92,680.84 L81.31,681.87 L81.71,682.49 L82.10,682.70 L82.50,682.51 L82.89,681.95 L83.29,681.01 L83.68,679.71 L84.08,678.05 L84.47,676.04 L84.87,673.69 L85.26,671.02 L85.66,668.04 L86.05,664.77 L86.45,661.23 L86.84,657.44 L87.24,653.42 L87.63,649.20 L88.03,644.79 L88.42,640.23 L88.82,635.55 L89.21,630.76 L89.61,625.91 L90.00,621.01 L90.40,616.09 L90.79,611.19 L91.19,606.34 L91.58,601.55 L91.98,596.87 L92.37,592.31 L92.77,587.90 L93.16,583.68 L93.56,579.66 L93.95,575.87 L94.35,572.33 L94.74,569.06 L95.14,566.08 L95.53,563.41 L95.93,561.06 L96.32,559.05 L96.72,557.39 L97.11,556.09 L97.51,555.15 L97.90,554.59 L98.30,554.40 L98.69,554.60 L99.08,555.19 L99.48,556.17 L99.87,557.54 L100.26,559.28 L100.66,561.39 L101.05,563.85 L101.44,566.65 L101.83,569.77 L102.22,573.19 L102.62,576.89 L103.01,580.84 L103.40,585.03 L103.80,589.43 L104.19,594.00 L104.58,598.73 L104.97,603.57 L105.36,608.51 L105.76,613.52 L106.15,618.55 L106.54,623.58 L106.94,628.59 L107.33,633.53 L107.72,638.37 L108.11,643.10 L108.50,647.67 L108.90,652.07 L109.29,656.26 L109.68,660.21 L110.08,663.91 L110.47,667.33 L110.86,670.45 L111.25,673.25 L111.64,675.71 L112.04,677.82 L112.43,679.56 L112.82,680.93 L113.22,681.91 L113.61,682.50 L114.00,682.70 L114.39,682.54 L114.79,682.08 L115.18,681.30 L115.57,680.21 L115.97,678.83 L116.36,677.15 L116.75,675.19 L117.15,672.95 L117.54,670.45 L117.93,667.69 L118.33,664.70 L118.72,661.47 L119.11,658.04 L119.51,654.42 L119.90,650.62 L120.29,646.67 L120.69,642.58 L121.08,638.37 L121.47,634.07 L121.87,629.69 L122.26,625.26 L122.65,620.79 L123.05,616.31 L123.44,611.84 L123.83,607.41 L124.23,603.03 L124.62,598.73 L125.01,594.52 L125.41,590.43 L125.80,586.47 L126.19,582.68 L126.59,579.06 L126.98,575.63 L127.37,572.40 L127.77,569.41 L128.16,566.65 L128.55,564.15 L128.95,561.91 L129.34,559.95 L129.73,558.27 L130.13,556.89 L130.52,555.80 L130.91,555.02 L131.31,554.56 L131.70,554.40 L132.09,554.50 L132.49,554.82 L132.88,555.34 L133.28,556.07 L133.67,557.00 L134.07,558.13 L134.46,559.46 L134.86,560.98 L135.25,562.69 L135.65,564.58 L136.04,566.65 L136.43,568.89 L136.83,571.29 L137.22,573.84 L137.62,576.54 L138.01,579.38 L138.41,582.34 L138.80,585.42 L139.20,588.61 L139.59,591.90 L139.99,595.28 L140.38,598.73 L140.77,602.24 L141.17,605.81 L141.56,609.42 L141.96,613.06 L142.35,616.72 L142.75,620.38 L143.14,624.04 L143.54,627.68 L143.93,631.29 L144.33,634.86 L144.72,638.37 L145.11,641.82 L145.51,645.20 L145.90,648.49 L146.30,651.68 L146.69,654.76 L147.09,657.72 L147.48,660.56 L147.88,663.26 L148.27,665.81 L148.67,668.21 L149.06,670.45 L149.45,672.52 L149.85,674.41 L150.24,676.12 L150.64,677.64 L151.03,678.97 L151.43,680.10 L151.82,681.03 L152.22,681.76 L152.61,682.28 L153.01,682.60 L153.40,682.70 L153.80,682.27 L154.20,680.97 L154.60,678.83 L155.00,675.88 L155.40,672.15 L155.80,667.69 L156.20,662.57 L156.60,656.86 L157.00,650.62 L157.40,643.96 L157.80,636.95 L158.20,629.69 L158.60,622.28 L159.00,614.82 L159.40,607.41 L159.80,600.15 L160.20,593.14 L160.60,586.47 L161.00,580.24 L161.40,574.53 L161.80,569.41 L162.20,564.95 L162.60,561.22 L163.00,558.27 L163.40,556.13 L163.80,554.83 L164.20,554.40 L164.59,554.80 L164.97,556.01 L165.36,558.00 L165.74,560.75 L166.13,564.23 L166.51,568.40 L166.90,573.19 L167.29,578.55 L167.67,584.42 L168.06,590.72 L168.44,597.36 L168.83,604.28 L169.21,611.37 L169.60,618.55 L169.99,625.73 L170.37,632.82 L170.76,639.74 L171.14,646.38 L171.53,652.68 L171.91,658.55 L172.30,663.91 L172.69,668.70 L173.07,672.87 L173.46,676.35 L173.84,679.10 L174.23,681.09 L174.61,682.30 L175.00,682.70 L175.39,682.15 L175.78,680.51 L176.16,677.82 L176.55,674.11 L176.94,669.44 L177.32,663.91 L177.71,657.60 L178.10,650.62 L178.49,643.10 L178.88,635.15 L179.26,626.92 L179.65,618.55 L180.04,610.18 L180.43,601.95 L180.81,594.00 L181.20,586.47 L181.59,579.50 L181.98,573.19 L182.36,567.66 L182.75,562.99 L183.14,559.28 L183.53,556.59 L183.91,554.95 L184.30,554.40 L184.70,554.83 L185.09,556.13 L185.49,558.27 L185.89,561.22 L186.28,564.95 L186.68,569.41 L187.07,574.53 L187.47,580.24 L187.87,586.47 L188.26,593.14 L188.66,600.15 L189.06,607.41 L189.45,614.82 L189.85,622.28 L190.24,629.69 L190.64,636.95 L191.04,643.96 L191.43,650.62 L191.83,656.86 L192.23,662.57 L192.62,667.69 L193.02,672.15 L193.41,675.88 L193.81,678.83 L194.21,680.97 L194.60,682.27 L195.00,682.70 L195.40,682.10 L195.79,680.32 L196.19,677.39 L196.58,673.36 L196.98,668.31 L197.37,662.34 L197.77,655.54 L198.17,648.06 L198.56,640.03 L198.96,631.60 L199.35,622.93 L199.75,614.17 L200.14,605.50 L200.54,597.07 L200.93,589.04 L201.33,581.56 L201.73,574.76 L202.12,568.79 L202.52,563.74 L202.91,559.71 L203.31,556.78 L203.70,555.00 L204.10,554.40 L204.50,554.83 L204.89,556.13 L205.29,558.27 L205.69,561.22 L206.08,564.95 L206.48,569.41 L206.87,574.53 L207.27,580.24 L207.67,586.47 L208.06,593.14 L208.46,600.15 L208.86,607.41 L209.25,614.82 L209.65,622.28 L210.04,629.69 L210.44,636.95 L210.84,643.96 L211.23,650.62 L211.63,656.86 L212.03,662.57 L212.42,667.69 L212.82,672.15 L213.21,675.88 L213.61,678.83 L214.01,680.97 L214.40,682.27 L214.80,682.70 L215.19,682.53 L215.59,682.02 L215.98,681.17 L216.37,679.98 L216.77,678.47 L217.16,676.63 L217.55,674.49 L217.94,672.05 L218.34,669.32 L218.73,666.33 L219.12,663.07 L219.52,659.59 L219.91,655.88 L220.30,651.97 L220.70,647.88 L221.09,643.64 L221.48,639.26 L221.87,634.78 L222.27,630.20 L222.66,625.57 L223.05,620.89 L223.45,616.21 L223.84,611.53 L224.23,606.90 L224.63,602.32 L225.02,597.84 L225.41,593.46 L225.80,589.22 L226.20,585.13 L226.59,581.22 L226.98,577.51 L227.38,574.03 L227.77,570.77 L228.16,567.78 L228.56,565.05 L228.95,562.61 L229.34,560.47 L229.73,558.63 L230.13,557.12 L230.52,555.93 L230.91,555.08 L231.31,554.57 L231.70,554.40 L232.09,554.56 L232.49,555.05 L232.88,555.87 L233.27,557.00 L233.67,558.44 L234.06,560.20 L234.45,562.25 L234.85,564.58 L235.24,567.20 L235.63,570.07 L236.02,573.19 L236.42,576.54 L236.81,580.11 L237.20,583.87 L237.60,587.81 L237.99,591.90 L238.38,596.13 L238.78,600.48 L239.17,604.91 L239.56,609.42 L239.96,613.97 L240.35,618.55 L240.74,623.13 L241.14,627.68 L241.53,632.19 L241.92,636.62 L242.32,640.97 L242.71,645.20 L243.10,649.29 L243.50,653.23 L243.89,656.99 L244.28,660.56 L244.68,663.91 L245.07,667.03 L245.46,669.90 L245.85,672.52 L246.25,674.85 L246.64,676.90 L247.03,678.66 L247.43,680.10 L247.82,681.23 L248.21,682.05 L248.61,682.54 L249.00,682.70 L249.40,682.57 L249.80,682.17 L250.19,681.52 L250.59,680.60 L250.99,679.43 L251.39,678.01 L251.79,676.35 L252.18,674.45 L252.58,672.31 L252.98,669.96 L253.38,667.40 L253.78,664.63 L254.17,661.68 L254.57,658.55 L254.97,655.25 L255.37,651.80 L255.77,648.22 L256.16,644.52 L256.56,640.71 L256.96,636.80 L257.36,632.82 L257.76,628.79 L258.15,624.71 L258.55,620.61 L258.95,616.49 L259.35,612.39 L259.74,608.31 L260.14,604.28 L260.54,600.30 L260.94,596.39 L261.34,592.58 L261.73,588.88 L262.13,585.30 L262.53,581.85 L262.93,578.55 L263.33,575.42 L263.72,572.47 L264.12,569.70 L264.52,567.14 L264.92,564.79 L265.32,562.65 L265.71,560.75 L266.11,559.09 L266.51,557.67 L266.91,556.50 L267.31,555.58 L267.70,554.93 L268.10,554.53 L268.50,554.40 L268.89,554.52 L269.28,554.89 L269.68,555.49 L270.07,556.34 L270.46,557.42 L270.85,558.73 L271.25,560.27 L271.64,562.03 L272.03,564.01 L272.42,566.19 L272.81,568.57 L273.21,571.14 L273.60,573.89 L273.99,576.81 L274.38,579.89 L274.77,583.12 L275.17,586.47 L275.56,589.96 L275.95,593.55 L276.34,597.23 L276.74,600.99 L277.13,604.83 L277.52,608.71 L277.91,612.63 L278.30,616.57 L278.70,620.53 L279.09,624.47 L279.48,628.39 L279.87,632.27 L280.26,636.11 L280.66,639.87 L281.05,643.55 L281.44,647.14 L281.83,650.62 L282.23,653.98 L282.62,657.21 L283.01,660.29 L283.40,663.21 L283.79,665.96 L284.19,668.53 L284.58,670.91 L284.97,673.09 L285.36,675.07 L285.75,676.83 L286.15,678.37 L286.54,679.68 L286.93,680.76 L287.32,681.61 L287.72,682.21 L288.11,682.58 L288.50,682.70 L288.89,682.60 L289.29,682.28 L289.68,681.76 L290.08,681.03 L290.47,680.10 L290.87,678.97 L291.26,677.64 L291.66,676.12 L292.05,674.41 L292.45,672.52 L292.84,670.45 L293.23,668.21 L293.63,665.81 L294.02,663.26 L294.42,660.56 L294.81,657.72 L295.21,654.76 L295.60,651.68 L296.00,648.49 L296.39,645.20 L296.79,641.82 L297.18,638.37 L297.57,634.86 L297.97,631.29 L298.36,627.68 L298.76,624.04 L299.15,620.38 L299.55,616.72 L299.94,613.06 L300.34,609.42 L300.73,605.81 L301.13,602.24 L301.52,598.73 L301.91,595.28 L302.31,591.90 L302.70,588.61 L303.10,585.42 L303.49,582.34 L303.89,579.38 L304.28,576.54 L304.68,573.84 L305.07,571.29 L305.47,568.89 L305.86,566.65 L306.25,564.58 L306.65,562.69 L307.04,560.98 L307.44,559.46 L307.83,558.13 L308.23,557.00 L308.62,556.07 L309.02,555.34 L309.41,554.82 L309.81,554.50 L310.20,554.40 L310.59,554.51 L310.98,554.85 L311.38,555.41 L311.77,556.19 L312.16,557.20 L312.55,558.41 L312.95,559.84 L313.34,561.48 L313.73,563.31 L314.12,565.34 L314.52,567.56 L314.91,569.96 L315.30,572.52 L315.69,575.25 L316.09,578.13 L316.48,581.15 L316.87,584.31 L317.26,587.58 L317.66,590.96 L318.05,594.44 L318.44,598.00 L318.83,601.64 L319.23,605.34 L319.62,609.08 L320.01,612.85 L320.40,616.65 L320.80,620.45 L321.19,624.25 L321.58,628.02 L321.97,631.76 L322.37,635.46 L322.76,639.10 L323.15,642.66 L323.54,646.14 L323.94,649.52 L324.33,652.79 L324.72,655.95 L325.11,658.97 L325.51,661.85 L325.90,664.58 L326.29,667.14 L326.68,669.54 L327.08,671.76 L327.47,673.79 L327.86,675.62 L328.25,677.26 L328.65,678.69 L329.04,679.90 L329.43,680.91 L329.82,681.69 L330.22,682.25 L330.61,682.59 L331.00,682.70 L331.40,682.57 L331.79,682.19 L332.19,681.56 L332.58,680.68 L332.98,679.56 L333.38,678.20 L333.77,676.59 L334.17,674.77 L334.56,672.71 L334.96,670.45 L335.36,667.98 L335.75,665.31 L336.15,662.46 L336.54,659.44 L336.94,656.26 L337.34,652.92 L337.73,649.45 L338.13,645.86 L338.52,642.17 L338.92,638.37 L339.32,634.50 L339.71,630.57 L340.11,626.59 L340.50,622.58 L340.90,618.55 L341.30,614.52 L341.69,610.51 L342.09,606.53 L342.48,602.60 L342.88,598.73 L343.28,594.93 L343.67,591.24 L344.07,587.65 L344.46,584.18 L344.86,580.84 L345.26,577.66 L345.65,574.64 L346.05,571.79 L346.44,569.12 L346.84,566.65 L347.24,564.39 L347.63,562.33 L348.03,560.51 L348.42,558.90 L348.82,557.54 L349.22,556.42 L349.61,555.54 L350.01,554.91 L350.40,554.53 L350.80,554.40 L351.20,554.50 L351.59,554.79 L351.99,555.27 L352.39,555.95 L352.78,556.82 L353.18,557.88 L353.58,559.12 L353.97,560.54 L354.37,562.13 L354.76,563.90 L355.16,565.83 L355.56,567.93 L355.95,570.17 L356.35,572.57 L356.75,575.10 L357.14,577.77 L357.54,580.56 L357.94,583.46 L358.33,586.47 L358.73,589.58 L359.13,592.78 L359.52,596.06 L359.92,599.40 L360.32,602.80 L360.71,606.25 L361.11,609.74 L361.51,613.25 L361.90,616.78 L362.30,620.32 L362.69,623.85 L363.09,627.36 L363.49,630.85 L363.88,634.30 L364.28,637.70 L364.68,641.04 L365.07,644.32 L365.47,647.52 L365.87,650.62 L366.26,653.64 L366.66,656.54 L367.06,659.33 L367.45,662.00 L367.85,664.53 L368.25,666.93 L368.64,669.17 L369.04,671.27 L369.44,673.20 L369.83,674.97 L370.23,676.56 L370.62,677.98 L371.02,679.22 L371.42,680.28 L371.81,681.15 L372.21,681.83 L372.61,682.31 L373.00,682.60 L373.40,682.70 L373.78,680.84 L374.17,675.35 L374.55,666.57 L374.94,654.99 L375.32,641.30 L375.71,626.28 L376.09,610.82 L376.48,595.80 L376.86,582.11 L377.25,570.53 L377.63,561.75 L378.02,556.26 L378.40,554.40 L378.79,554.83 L379.18,556.13 L379.57,558.27 L379.96,561.22 L380.34,564.95 L380.73,569.41 L381.12,574.53 L381.51,580.24 L381.90,586.47 L382.29,593.14 L382.68,600.15 L383.07,607.41 L383.46,614.82 L383.84,622.28 L384.23,629.69 L384.62,636.95 L385.01,643.96 L385.40,650.62 L385.79,656.86 L386.18,662.57 L386.57,667.69 L386.96,672.15 L387.34,675.88 L387.73,678.83 L388.12,680.97 L388.51,682.27 L388.90,682.70 L389.29,682.15 L389.68,680.51 L390.07,677.82 L390.47,674.11 L390.86,669.44 L391.25,663.91 L391.64,657.60 L392.03,650.62 L392.43,643.10 L392.82,635.15 L393.21,626.92 L393.60,618.55 L393.99,610.18 L394.38,601.95 L394.77,594.00 L395.17,586.47 L395.56,579.50 L395.95,573.19 L396.34,567.66 L396.73,562.99 L397.12,559.28 L397.52,556.59 L397.91,554.95 L398.30,554.40 L398.69,555.19 L399.09,557.54 L399.49,561.39 L399.88,566.65 L400.27,573.19 L400.67,580.84 L401.06,589.43 L401.46,598.73 L401.86,608.51 L402.25,618.55 L402.64,628.59 L403.04,638.37 L403.44,647.67 L403.83,656.26 L404.23,663.91 L404.62,670.45 L405.01,675.71 L405.41,679.56 L405.81,681.91 L406.20,682.70 L406.59,682.19 L406.98,680.68 L407.36,678.20 L407.75,674.77 L408.14,670.45 L408.53,665.31 L408.92,659.44 L409.30,652.92 L409.69,645.86 L410.08,638.37 L410.47,630.57 L410.86,622.58 L411.24,614.52 L411.63,606.53 L412.02,598.73 L412.41,591.24 L412.80,584.18 L413.18,577.66 L413.57,571.79 L413.96,566.65 L414.35,562.33 L414.74,558.90 L415.12,556.42 L415.51,554.91 L415.90,554.40 L416.28,555.19 L416.66,557.54 L417.04,561.39 L417.42,566.65 L417.80,573.19 L418.18,580.84 L418.56,589.43 L418.94,598.73 L419.32,608.51 L419.70,618.55 L420.08,628.59 L420.46,638.37 L420.84,647.67 L421.22,656.26 L421.60,663.91 L421.98,670.45 L422.36,675.71 L422.74,679.56 L423.12,681.91 L423.50,682.70 L423.90,682.56 L424.29,682.15 L424.69,681.47 L425.08,680.51 L425.48,679.30 L425.88,677.82 L426.27,676.08 L426.67,674.11 L427.06,671.89 L427.46,669.44 L427.85,666.78 L428.25,663.91 L428.65,660.85 L429.04,657.60 L429.44,654.19 L429.83,650.62 L430.23,646.92 L430.62,643.10 L431.02,639.17 L431.42,635.15 L431.81,631.07 L432.21,626.92 L432.60,622.75 L433.00,618.55 L433.40,614.35 L433.79,610.18 L434.19,606.03 L434.58,601.95 L434.98,597.93 L435.38,594.00 L435.77,590.18 L436.17,586.47 L436.56,582.91 L436.96,579.50 L437.35,576.25 L437.75,573.19 L438.15,570.32 L438.54,567.66 L438.94,565.21 L439.33,562.99 L439.73,561.02 L440.12,559.28 L440.52,557.80 L440.92,556.59 L441.31,555.63 L441.71,554.95 L442.10,554.54 L442.50,554.40 L442.90,554.58 L443.29,555.12 L443.69,556.01 L444.08,557.25 L444.48,558.83 L444.87,560.75 L445.27,562.99 L445.66,565.55 L446.06,568.40 L446.45,571.52 L446.85,574.92 L447.24,578.55 L447.64,582.41 L448.03,586.47 L448.43,590.72 L448.82,595.11 L449.22,599.64 L449.61,604.28 L450.01,608.99 L450.40,613.76 L450.80,618.55 L451.20,623.34 L451.59,628.11 L451.99,632.82 L452.38,637.46 L452.78,641.99 L453.17,646.38 L453.57,650.62 L453.96,654.69 L454.36,658.55 L454.75,662.18 L455.15,665.58 L455.54,668.70 L455.94,671.55 L456.33,674.11 L456.73,676.35 L457.12,678.27 L457.52,679.85 L457.91,681.09 L458.31,681.98 L458.70,682.52 L459.10,682.70 L459.49,682.60 L459.89,682.30 L460.28,681.79 L460.68,681.09 L461.07,680.19 L461.47,679.10 L461.86,677.82 L462.26,676.35 L462.65,674.70 L463.05,672.87 L463.44,670.87 L463.84,668.70 L464.23,666.38 L464.62,663.91 L465.02,661.30 L465.41,658.55 L465.81,655.67 L466.20,652.68 L466.60,649.58 L466.99,646.38 L467.39,643.10 L467.78,639.74 L468.18,636.31 L468.57,632.82 L468.97,629.30 L469.36,625.73 L469.76,622.15 L470.15,618.55 L470.54,614.95 L470.94,611.37 L471.33,607.80 L471.73,604.28 L472.12,600.79 L472.52,597.36 L472.91,594.00 L473.31,590.72 L473.70,587.52 L474.10,584.42 L474.49,581.43 L474.89,578.55 L475.28,575.80 L475.68,573.19 L476.07,570.72 L476.46,568.40 L476.86,566.23 L477.25,564.23 L477.65,562.40 L478.04,560.75 L478.44,559.28 L478.83,558.00 L479.23,556.91 L479.62,556.01 L480.02,555.31 L480.41,554.80 L480.81,554.50 L481.20,554.40 L481.59,554.57 L481.98,555.08 L482.37,555.93 L482.76,557.12 L483.15,558.63 L483.54,560.47 L483.93,562.61 L484.33,565.05 L484.72,567.78 L485.11,570.77 L485.50,574.03 L485.89,577.51 L486.28,581.22 L486.67,585.13 L487.06,589.22 L487.45,593.46 L487.84,597.84 L488.23,602.32 L488.62,606.90 L489.01,611.53 L489.40,616.21 L489.80,620.89 L490.19,625.57 L490.58,630.20 L490.97,634.78 L491.36,639.26 L491.75,643.64 L492.14,647.88 L492.53,651.97 L492.92,655.88 L493.31,659.59 L493.70,663.07 L494.09,666.33 L494.48,669.32 L494.87,672.05 L495.27,674.49 L495.66,676.63 L496.05,678.47 L496.44,679.98 L496.83,681.17 L497.22,682.02 L497.61,682.53 L498.00,682.70 L498.40,682.61 L498.79,682.32 L499.19,681.85 L499.59,681.20 L499.98,680.36 L500.38,679.34 L500.78,678.14 L501.17,676.77 L501.57,675.23 L501.97,673.52 L502.36,671.65 L502.76,669.62 L503.16,667.44 L503.55,665.12 L503.95,662.67 L504.34,660.08 L504.74,657.37 L505.14,654.55 L505.53,651.62 L505.93,648.60 L506.33,645.49 L506.72,642.29 L507.12,639.03 L507.52,635.71 L507.91,632.34 L508.31,628.93 L508.71,625.49 L509.10,622.02 L509.50,618.55 L509.90,615.08 L510.29,611.61 L510.69,608.17 L511.09,604.76 L511.48,601.39 L511.88,598.07 L512.28,594.81 L512.67,591.61 L513.07,588.50 L513.47,585.48 L513.86,582.55 L514.26,579.73 L514.66,577.02 L515.05,574.43 L515.45,571.98 L515.84,569.66 L516.24,567.48 L516.64,565.45 L517.03,563.58 L517.43,561.87 L517.83,560.33 L518.22,558.96 L518.62,557.76 L519.02,556.74 L519.41,555.90 L519.81,555.25 L520.21,554.78 L520.60,554.49 L521.00,554.40 L521.40,554.56 L521.79,555.02 L522.19,555.80 L522.58,556.89 L522.98,558.27 L523.37,559.95 L523.77,561.91 L524.16,564.15 L524.56,566.65 L524.96,569.41 L525.35,572.40 L525.75,575.63 L526.14,579.06 L526.54,582.68 L526.93,586.47 L527.33,590.43 L527.72,594.52 L528.12,598.73 L528.52,603.03 L528.91,607.41 L529.31,611.84 L529.70,616.31 L530.10,620.79 L530.49,625.26 L530.89,629.69 L531.28,634.07 L531.68,638.37 L532.08,642.58 L532.47,646.67 L532.87,650.62 L533.26,654.42 L533.66,658.04 L534.05,661.47 L534.45,664.70 L534.84,667.69 L535.24,670.45 L535.64,672.95 L536.03,675.19 L536.43,677.15 L536.82,678.83 L537.22,680.21 L537.61,681.30 L538.01,682.08 L538.40,682.54 L538.80,682.70 L539.20,682.60 L539.59,682.30 L539.99,681.79 L540.39,681.09 L540.78,680.19 L541.18,679.10 L541.57,677.82 L541.97,676.35 L542.37,674.70 L542.76,672.87 L543.16,670.87 L543.56,668.70 L543.95,666.38 L544.35,663.91 L544.75,661.30 L545.14,658.55 L545.54,655.67 L545.94,652.68 L546.33,649.58 L546.73,646.38 L547.12,643.10 L547.52,639.74 L547.92,636.31 L548.31,632.82 L548.71,629.30 L549.11,625.73 L549.50,622.15 L549.90,618.55 L550.30,614.95 L550.69,611.37 L551.09,607.80 L551.49,604.28 L551.88,600.79 L552.28,597.36 L552.67,594.00 L553.07,590.72 L553.47,587.52 L553.86,584.42 L554.26,581.43 L554.66,578.55 L555.05,575.80 L555.45,573.19 L555.85,570.72 L556.24,568.40 L556.64,566.23 L557.04,564.23 L557.43,562.40 L557.83,560.75 L558.23,559.28 L558.62,558.00 L559.02,556.91 L559.41,556.01 L559.81,555.31 L560.21,554.80 L560.60,554.50 L561.00,554.40 L561.40,554.58 L561.80,555.12 L562.19,556.01 L562.59,557.25 L562.99,558.83 L563.39,560.75 L563.78,562.99 L564.18,565.55 L564.58,568.40 L564.98,571.52 L565.37,574.92 L565.77,578.55 L566.17,582.41 L566.57,586.47 L566.96,590.72 L567.36,595.11 L567.76,599.64 L568.16,604.28 L568.55,608.99 L568.95,613.76 L569.35,618.55 L569.75,623.34 L570.15,628.11 L570.54,632.82 L570.94,637.46 L571.34,641.99 L571.74,646.38 L572.13,650.62 L572.53,654.69 L572.93,658.55 L573.33,662.18 L573.72,665.58 L574.12,668.70 L574.52,671.55 L574.92,674.11 L575.31,676.35 L575.71,678.27 L576.11,679.85 L576.51,681.09 L576.90,681.98 L577.30,682.52 L577.70,682.70 L578.09,681.83 L578.49,679.22 L578.88,674.97 L579.28,669.17 L579.67,662.00 L580.07,653.64 L580.46,644.32 L580.86,634.30 L581.25,623.85 L581.65,613.25 L582.04,602.80 L582.44,592.78 L582.83,583.46 L583.23,575.10 L583.62,567.93 L584.02,562.13 L584.41,557.88 L584.81,555.27 L585.20,554.40 L585.59,554.83 L585.99,556.13 L586.38,558.27 L586.77,561.22 L587.16,564.95 L587.56,569.41 L587.95,574.53 L588.34,580.24 L588.73,586.47 L589.13,593.14 L589.52,600.15 L589.91,607.41 L590.30,614.82 L590.70,622.28 L591.09,629.69 L591.48,636.95 L591.87,643.96 L592.27,650.62 L592.66,656.86 L593.05,662.57 L593.44,667.69 L593.84,672.15 L594.23,675.88 L594.62,678.83 L595.01,680.97 L595.41,682.27 L595.80,682.70 L596.19,682.35 L596.58,681.30 L596.97,679.56 L597.36,677.15 L597.75,674.11 L598.14,670.45 L598.53,666.22 L598.92,661.47 L599.31,656.26 L599.70,650.62 L600.09,644.64 L600.48,638.37 L600.87,631.89 L601.26,625.26 L601.65,618.55 L602.04,611.84 L602.43,605.21 L602.82,598.73 L603.21,592.46 L603.60,586.47 L603.99,580.84 L604.38,575.63 L604.77,570.88 L605.16,566.65 L605.55,562.99 L605.94,559.95 L606.33,557.54 L606.72,555.80 L607.11,554.75 L607.50,554.40 L607.89,555.63 L608.29,559.28 L608.68,565.21 L609.08,573.19 L609.47,582.91 L609.86,594.00 L610.26,606.03 L610.65,618.55 L611.04,631.07 L611.44,643.10 L611.83,654.19 L612.22,663.91 L612.62,671.89 L613.01,677.82 L613.41,681.47 L613.80,682.70 L614.18,682.19 L614.57,680.68 L614.95,678.20 L615.34,674.77 L615.72,670.45 L616.10,665.31 L616.49,659.44 L616.87,652.92 L617.26,645.86 L617.64,638.37 L618.02,630.57 L618.41,622.58 L618.79,614.52 L619.18,606.53 L619.56,598.73 L619.94,591.24 L620.33,584.18 L620.71,577.66 L621.10,571.79 L621.48,566.65 L621.86,562.33 L622.25,558.90 L622.63,556.42 L623.02,554.91 L623.40,554.40 L623.78,554.95 L624.17,556.59 L624.55,559.28 L624.93,562.99 L625.32,567.66 L625.70,573.19 L626.08,579.50 L626.47,586.47 L626.85,594.00 L627.23,601.95 L627.62,610.18 L628.00,618.55 L628.38,626.92 L628.77,635.15 L629.15,643.10 L629.53,650.62 L629.92,657.60 L630.30,663.91 L630.68,669.44 L631.07,674.11 L631.45,677.82 L631.83,680.51 L632.22,682.15 L632.60,682.70 L633.00,682.60 L633.40,682.31 L633.80,681.83 L634.20,681.15 L634.60,680.28 L635.00,679.23 L635.40,677.99 L635.80,676.57 L636.20,674.98 L636.60,673.21 L637.00,671.28 L637.40,669.20 L637.80,666.96 L638.20,664.57 L638.60,662.05 L639.00,659.39 L639.40,656.62 L639.80,653.73 L640.20,650.74 L640.60,647.66 L641.00,644.49 L641.40,641.24 L641.80,637.94 L642.20,634.57 L642.60,631.17 L643.00,627.73 L643.40,624.27 L643.80,620.80"/>
</g>
<path d="M30,761.5 H289" stroke="#f3f3f3" stroke-width="1" stroke-dasharray="3 2"/>
<g>
<path d="M575.73,366.99 L576.45,367.94 L577.16,368.89 L577.85,369.84 L578.53,370.79 L579.19,371.75 L579.84,372.70 L580.47,373.66 L581.09,374.62 L581.70,375.58 L582.29,376.55 L582.87,377.51 L583.44,378.48 L584.00,379.44 L584.49,380.44 L584.97,381.43 L585.43,382.42 L585.89,383.42 L586.33,384.41 L586.76,385.41 L587.18,386.41 L587.58,387.40 L587.98,388.40 L588.36,389.40 L588.73,390.39 L589.09,391.39 L589.44,392.39 L589.78,393.39 L590.11,394.39 L590.43,395.39 L590.73,396.39 L591.03,397.39 L591.32,398.39 L591.60,399.40 L591.86,400.40 L592.12,401.40 L592.37,402.40 L592.61,403.41 L592.84,404.41 L593.07,405.41 L593.28,406.42 L593.49,407.42 L593.68,408.43 L593.87,409.43 L594.05,410.44 L594.21,411.44 L594.37,412.45 L594.52,413.45 L594.66,414.46 L594.79,415.47 L594.92,416.47 L595.04,417.48 L595.15,418.49 L595.25,419.49 L595.35,420.50 L595.44,421.51 L595.52,422.51 L595.60,423.52 L595.67,424.53 L595.73,425.54 L595.79,426.54 L595.84,427.55 L595.88,428.56 L595.92,429.57 L595.94,430.57 L595.96,431.58 L595.97,432.59 L595.98,433.60 L595.97,434.61 L595.97,435.61 L595.95,436.62 L595.93,437.63 L595.91,438.64 L595.88,439.65 L595.84,440.65 L595.80,441.66 L595.75,442.67 L595.69,443.68 L595.63,444.69 L595.57,445.70 L595.49,446.70 L595.42,447.71 L595.33,448.72 L595.24,449.73 L595.15,450.74 L595.05,451.75 L594.94,452.76 L594.82,453.77 L594.70,454.77 L594.58,455.78 L594.45,456.79 L594.31,457.80 L594.17,458.81 L594.02,459.82 L593.86,460.83 L593.70,461.84 L593.53,462.85 L593.36,463.86 L593.18,464.87 L593.00,465.88 L592.81,466.90 L592.61,467.91 L592.41,468.92 L592.20,469.93 L591.98,470.94 L591.76,471.95 L591.53,472.97 L591.29,473.98 L591.05,474.99 L590.80,476.00 L590.55,477.02 L590.28,478.03 L590.01,479.04 L589.74,480.06 L589.45,481.07 L589.16,482.09 L588.86,483.10 L588.56,484.12 L588.24,485.13 L587.92,486.15 L587.59,487.16 L587.25,488.18 L586.91,489.20 L586.55,490.21 L586.19,491.23 L585.82,492.25 L585.44,493.26 L585.04,494.28 L584.64,495.30 L584.24,496.31 L583.82,497.33 L583.39,498.35 L582.95,499.37 L582.51,500.39 L582.05,501.40 L581.58,502.42 L581.11,503.44 L580.62,504.46 L580.12,505.48 L579.62,506.50 L573.74,503.50 L574.23,502.54 L574.72,501.57 L575.19,500.61 L575.66,499.64 L576.11,498.67 L576.56,497.71 L577.00,496.74 L577.43,495.78 L577.85,494.81 L578.26,493.84 L578.66,492.88 L579.06,491.91 L579.44,490.94 L579.82,489.97 L580.19,489.01 L580.55,488.04 L580.91,487.07 L581.26,486.10 L581.60,485.14 L581.94,484.17 L582.26,483.20 L582.58,482.23 L582.90,481.26 L583.20,480.29 L583.50,479.32 L583.79,478.35 L584.08,477.38 L584.36,476.41 L584.63,475.44 L584.89,474.47 L585.15,473.50 L585.40,472.53 L585.65,471.56 L585.89,470.59 L586.12,469.61 L586.35,468.64 L586.57,467.67 L586.79,466.70 L587.00,465.72 L587.20,464.75 L587.40,463.78 L587.59,462.80 L587.78,461.83 L587.96,460.85 L588.13,459.88 L588.30,458.91 L588.47,457.93 L588.62,456.96 L588.78,455.98 L588.92,455.01 L589.06,454.03 L589.20,453.06 L589.33,452.08 L589.45,451.11 L589.57,450.13 L589.69,449.16 L589.80,448.18 L589.90,447.21 L590.00,446.23 L590.10,445.25 L590.19,444.28 L590.27,443.30 L590.35,442.33 L590.42,441.35 L590.48,440.37 L590.54,439.40 L590.60,438.42 L590.65,437.45 L590.69,436.47 L590.73,435.49 L590.76,434.52 L590.79,433.54 L590.81,432.57 L590.82,431.59 L590.83,430.61 L590.83,429.64 L590.84,428.66 L590.83,427.68 L590.82,426.71 L590.81,425.73 L590.79,424.75 L590.76,423.78 L590.72,422.80 L590.68,421.82 L590.63,420.85 L590.58,419.87 L590.52,418.89 L590.45,417.91 L590.37,416.94 L590.29,415.96 L590.20,414.98 L590.10,414.00 L590.00,413.02 L589.88,412.05 L589.76,411.07 L589.64,410.09 L589.51,409.11 L589.37,408.13 L589.23,407.15 L589.07,406.17 L588.91,405.19 L588.74,404.21 L588.56,403.23 L588.37,402.25 L588.17,401.26 L587.97,400.28 L587.75,399.30 L587.53,398.32 L587.29,397.33 L587.04,396.35 L586.79,395.37 L586.52,394.38 L586.25,393.40 L585.96,392.41 L585.67,391.43 L585.36,390.44 L585.04,389.45 L584.71,388.47 L584.37,387.48 L584.02,386.49 L583.65,385.50 L583.28,384.51 L582.89,383.52 L582.49,382.53 L582.07,381.54 L581.64,380.55 L581.25,379.53 L580.85,378.52 L580.43,377.50 L580.00,376.48 L579.55,375.45 L579.09,374.43 L578.61,373.40 L578.11,372.37 L577.60,371.34 L577.08,370.31 L576.53,369.28 L575.97,368.25 L575.40,367.21 Z" fill="#8e8e8e"/>
<path d="M571,493.7 L575.5,503 L581.2,508.5 L581.2,514 L580.3,518.3 L557.5,538.4 Z" fill="#8e8e8e"/>
<path d="M575.56,367.10 L576.21,368.09 L576.85,369.08 L577.46,370.08 L578.06,371.07 L578.65,372.06 L579.22,373.05 L579.78,374.04 L580.32,375.04 L580.85,376.03 L581.36,377.02 L581.86,378.01 L582.35,379.01 L582.82,380.00 L583.28,380.99 L583.73,381.98 L584.16,382.97 L584.58,383.97 L584.99,384.96 L585.39,385.95 L585.77,386.94 L586.15,387.93 L586.51,388.93 L586.86,389.92 L587.20,390.91 L587.53,391.90 L587.85,392.89 L588.15,393.89 L588.45,394.88 L588.74,395.87 L589.01,396.86 L589.28,397.85 L589.53,398.85 L589.78,399.84 L590.02,400.83 L590.25,401.82 L590.47,402.82 L590.68,403.81 L590.88,404.80 L591.07,405.79 L591.25,406.78 L591.43,407.78 L591.60,408.77 L591.75,409.76 L591.90,410.75 L592.05,411.74 L592.18,412.74 L592.31,413.73 L592.43,414.72 L592.54,415.71 L592.65,416.70 L592.74,417.70 L592.83,418.69 L592.92,419.68 L592.99,420.67 L593.06,421.66 L593.12,422.66 L593.18,423.65 L593.23,424.64 L593.27,425.63 L593.31,426.63 L593.34,427.62 L593.36,428.61 L593.38,429.60 L593.39,430.59 L593.39,431.59 L593.39,432.58 L593.38,433.57 L593.36,434.56 L593.33,435.55 L593.29,436.55 L593.25,437.54 L593.20,438.53 L593.14,439.52 L593.08,440.51 L593.01,441.50 L592.94,442.49 L592.86,443.48 L592.78,444.47 L592.69,445.46 L592.59,446.45 L592.49,447.44 L592.39,448.43 L592.27,449.42 L592.16,450.41 L592.04,451.40 L591.91,452.39 L591.78,453.38 L591.64,454.37 L591.50,455.36 L591.35,456.35 L591.20,457.34 L591.03,458.33 L590.87,459.32 L590.70,460.31 L590.52,461.30 L590.34,462.28 L590.15,463.27 L589.95,464.26 L589.75,465.25 L589.55,466.24 L589.33,467.22 L589.12,468.21 L588.89,469.20 L588.66,470.19 L588.42,471.18 L588.18,472.16 L587.93,473.15 L587.67,474.14 L587.41,475.12 L587.14,476.11 L586.86,477.10 L586.58,478.08 L586.29,479.07 L585.99,480.06 L585.69,481.04 L585.38,482.03 L585.06,483.01 L584.74,484.00 L584.40,484.99 L584.06,485.97 L583.72,486.96 L583.36,487.94 L583.00,488.93 L582.63,489.91 L582.25,490.90 L581.87,491.88 L581.47,492.87 L581.07,493.85 L580.66,494.84 L580.24,495.82 L579.81,496.81 L579.38,497.79 L578.93,498.78 L578.48,499.76 L578.01,500.75 L577.54,501.73 L577.05,502.71 L576.56,503.70 L576.05,504.68 L573.74,503.50 L574.23,502.54 L574.72,501.57 L575.19,500.61 L575.66,499.64 L576.11,498.67 L576.56,497.71 L577.00,496.74 L577.43,495.78 L577.85,494.81 L578.26,493.84 L578.66,492.88 L579.06,491.91 L579.44,490.94 L579.82,489.97 L580.19,489.01 L580.55,488.04 L580.91,487.07 L581.26,486.10 L581.60,485.14 L581.94,484.17 L582.26,483.20 L582.58,482.23 L582.90,481.26 L583.20,480.29 L583.50,479.32 L583.79,478.35 L584.08,477.38 L584.36,476.41 L584.63,475.44 L584.89,474.47 L585.15,473.50 L585.40,472.53 L585.65,471.56 L585.89,470.59 L586.12,469.61 L586.35,468.64 L586.57,467.67 L586.79,466.70 L587.00,465.72 L587.20,464.75 L587.40,463.78 L587.59,462.80 L587.78,461.83 L587.96,460.85 L588.13,459.88 L588.30,458.91 L588.47,457.93 L588.62,456.96 L588.78,455.98 L588.92,455.01 L589.06,454.03 L589.20,453.06 L589.33,452.08 L589.45,451.11 L589.57,450.13 L589.69,449.16 L589.80,448.18 L589.90,447.21 L590.00,446.23 L590.10,445.25 L590.19,444.28 L590.27,443.30 L590.35,442.33 L590.42,441.35 L590.48,440.37 L590.54,439.40 L590.60,438.42 L590.65,437.45 L590.69,436.47 L590.73,435.49 L590.76,434.52 L590.79,433.54 L590.81,432.57 L590.82,431.59 L590.83,430.61 L590.83,429.64 L590.84,428.66 L590.83,427.68 L590.82,426.71 L590.81,425.73 L590.79,424.75 L590.76,423.78 L590.72,422.80 L590.68,421.82 L590.63,420.85 L590.58,419.87 L590.52,418.89 L590.45,417.91 L590.37,416.94 L590.29,415.96 L590.20,414.98 L590.10,414.00 L590.00,413.02 L589.88,412.05 L589.76,411.07 L589.64,410.09 L589.51,409.11 L589.37,408.13 L589.23,407.15 L589.07,406.17 L588.91,405.19 L588.74,404.21 L588.56,403.23 L588.37,402.25 L588.17,401.26 L587.97,400.28 L587.75,399.30 L587.53,398.32 L587.29,397.33 L587.04,396.35 L586.79,395.37 L586.52,394.38 L586.25,393.40 L585.96,392.41 L585.67,391.43 L585.36,390.44 L585.04,389.45 L584.71,388.47 L584.37,387.48 L584.02,386.49 L583.65,385.50 L583.28,384.51 L582.89,383.52 L582.49,382.53 L582.07,381.54 L581.64,380.55 L581.25,379.53 L580.85,378.52 L580.43,377.50 L580.00,376.48 L579.55,375.45 L579.09,374.43 L578.61,373.40 L578.11,372.37 L577.60,371.34 L577.08,370.31 L576.53,369.28 L575.97,368.25 L575.40,367.21 Z" fill="#000"/>
<path d="M576.5,504.5 L571,493.7 L557.5,538.4" fill="none" stroke="#000" stroke-width="1.6" stroke-linejoin="miter"/>
</g>
</svg>
<div class="t" style="left:229.5px;top:176.1px">Carrier wave</div>
<div class="t" style="left:313px;top:217.5px">(a)</div>
<div class="t" style="left:236.5px;top:436.3px">Audio signal</div>
<div class="t" style="left:315px;top:477px">(b)</div>
<div class="t" style="left:155.2px;top:720.5px">Frequency modulated</div>
<div class="t" style="left:314.8px;top:764.6px;letter-spacing:1.2px">(c)</div>
</body></html>
